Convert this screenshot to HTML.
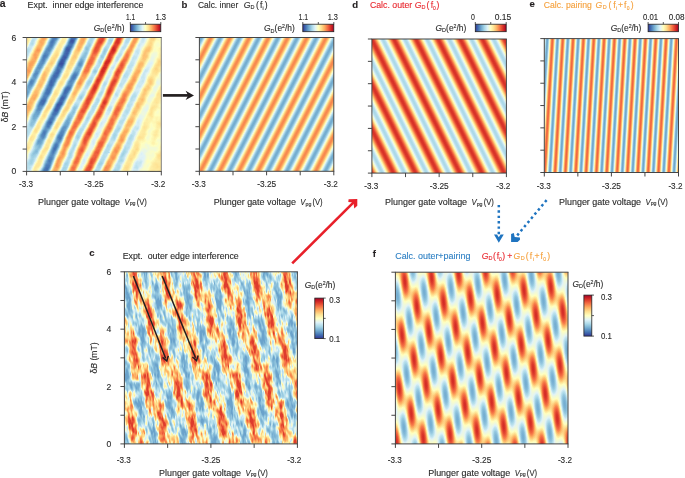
<!DOCTYPE html>
<html><head><meta charset="utf-8"><style>html,body{margin:0;padding:0;background:#fff;overflow:hidden}svg{display:block;will-change:transform}text{font-family:"Liberation Sans",sans-serif;stroke-width:0.12px}</style></head>
<body><svg width="685" height="478" viewBox="0 0 685 478"><defs><linearGradient id="cbh" x1="0" y1="0" x2="1" y2="0"><stop offset="0.00" stop-color="#313695"/><stop offset="0.10" stop-color="#4575b4"/><stop offset="0.20" stop-color="#74add1"/><stop offset="0.30" stop-color="#abd9e9"/><stop offset="0.40" stop-color="#e0f3f8"/><stop offset="0.50" stop-color="#ffffbf"/><stop offset="0.60" stop-color="#fee090"/><stop offset="0.70" stop-color="#fdae61"/><stop offset="0.80" stop-color="#f46d43"/><stop offset="0.90" stop-color="#d73027"/><stop offset="1.00" stop-color="#a50026"/></linearGradient><linearGradient id="cbv" x1="0" y1="1" x2="0" y2="0"><stop offset="0.00" stop-color="#313695"/><stop offset="0.10" stop-color="#4575b4"/><stop offset="0.20" stop-color="#74add1"/><stop offset="0.30" stop-color="#abd9e9"/><stop offset="0.40" stop-color="#e0f3f8"/><stop offset="0.50" stop-color="#ffffbf"/><stop offset="0.60" stop-color="#fee090"/><stop offset="0.70" stop-color="#fdae61"/><stop offset="0.80" stop-color="#f46d43"/><stop offset="0.90" stop-color="#d73027"/><stop offset="1.00" stop-color="#a50026"/></linearGradient><linearGradient id="gb" gradientUnits="userSpaceOnUse" spreadMethod="repeat" x1="208.700" y1="42.000" x2="223.942" y2="49.767"><stop offset="0.0000" stop-color="#c2c2c2"/><stop offset="0.0417" stop-color="#bfbfbf"/><stop offset="0.0833" stop-color="#b8b8b8"/><stop offset="0.1250" stop-color="#adadad"/><stop offset="0.1667" stop-color="#9e9e9e"/><stop offset="0.2083" stop-color="#8d8d8d"/><stop offset="0.2500" stop-color="#7a7a7a"/><stop offset="0.2917" stop-color="#686868"/><stop offset="0.3333" stop-color="#575757"/><stop offset="0.3750" stop-color="#484848"/><stop offset="0.4167" stop-color="#3d3d3d"/><stop offset="0.4583" stop-color="#353535"/><stop offset="0.5000" stop-color="#333333"/><stop offset="0.5417" stop-color="#353535"/><stop offset="0.5833" stop-color="#3d3d3d"/><stop offset="0.6250" stop-color="#484848"/><stop offset="0.6667" stop-color="#575757"/><stop offset="0.7083" stop-color="#686868"/><stop offset="0.7500" stop-color="#7a7a7a"/><stop offset="0.7917" stop-color="#8d8d8d"/><stop offset="0.8333" stop-color="#9e9e9e"/><stop offset="0.8750" stop-color="#adadad"/><stop offset="0.9167" stop-color="#b8b8b8"/><stop offset="0.9583" stop-color="#bfbfbf"/><stop offset="1.0000" stop-color="#c2c2c2"/></linearGradient><filter id="cmb" color-interpolation-filters="sRGB" filterUnits="objectBoundingBox" x="0" y="0" width="1" height="1"><feComponentTransfer in="SourceGraphic"><feFuncR type="table" tableValues="0.1922 0.2706 0.4549 0.6706 0.8784 1.0000 0.9961 0.9922 0.9569 0.8431 0.6471"/><feFuncG type="table" tableValues="0.2118 0.4588 0.6784 0.8510 0.9529 1.0000 0.8784 0.6824 0.4275 0.1882 0.0000"/><feFuncB type="table" tableValues="0.5843 0.7059 0.8196 0.9137 0.9725 0.7490 0.5647 0.3804 0.2627 0.1529 0.1490"/><feFuncA type="identity"/></feComponentTransfer></filter><clipPath id="cb"><rect x="199.40" y="37.50" width="134.40" height="133.80"/></clipPath><linearGradient id="gd" gradientUnits="userSpaceOnUse" spreadMethod="repeat" x1="373.600" y1="43.000" x2="391.423" y2="34.218"><stop offset="0.0000" stop-color="#e5e5e5"/><stop offset="0.0417" stop-color="#e3e3e3"/><stop offset="0.0833" stop-color="#dbdbdb"/><stop offset="0.1250" stop-color="#cfcfcf"/><stop offset="0.1667" stop-color="#bfbfbf"/><stop offset="0.2083" stop-color="#adadad"/><stop offset="0.2500" stop-color="#999999"/><stop offset="0.2917" stop-color="#858585"/><stop offset="0.3333" stop-color="#737373"/><stop offset="0.3750" stop-color="#636363"/><stop offset="0.4167" stop-color="#575757"/><stop offset="0.4583" stop-color="#4f4f4f"/><stop offset="0.5000" stop-color="#4c4c4c"/><stop offset="0.5417" stop-color="#4f4f4f"/><stop offset="0.5833" stop-color="#575757"/><stop offset="0.6250" stop-color="#636363"/><stop offset="0.6667" stop-color="#737373"/><stop offset="0.7083" stop-color="#858585"/><stop offset="0.7500" stop-color="#999999"/><stop offset="0.7917" stop-color="#adadad"/><stop offset="0.8333" stop-color="#bfbfbf"/><stop offset="0.8750" stop-color="#cfcfcf"/><stop offset="0.9167" stop-color="#dbdbdb"/><stop offset="0.9583" stop-color="#e3e3e3"/><stop offset="1.0000" stop-color="#e5e5e5"/></linearGradient><filter id="cmd" color-interpolation-filters="sRGB" filterUnits="objectBoundingBox" x="0" y="0" width="1" height="1"><feComponentTransfer in="SourceGraphic"><feFuncR type="table" tableValues="0.1922 0.2706 0.4549 0.6706 0.8784 1.0000 0.9961 0.9922 0.9569 0.8431 0.6471"/><feFuncG type="table" tableValues="0.2118 0.4588 0.6784 0.8510 0.9529 1.0000 0.8784 0.6824 0.4275 0.1882 0.0000"/><feFuncB type="table" tableValues="0.5843 0.7059 0.8196 0.9137 0.9725 0.7490 0.5647 0.3804 0.2627 0.1529 0.1490"/><feFuncA type="identity"/></feComponentTransfer></filter><clipPath id="cd"><rect x="371.90" y="39.00" width="134.50" height="134.10"/></clipPath><linearGradient id="ge" gradientUnits="userSpaceOnUse" spreadMethod="repeat" x1="552.400" y1="40.000" x2="562.705" y2="40.598"><stop offset="0.0000" stop-color="#cfcfcf"/><stop offset="0.0417" stop-color="#cccccc"/><stop offset="0.0833" stop-color="#c4c4c4"/><stop offset="0.1250" stop-color="#b7b7b7"/><stop offset="0.1667" stop-color="#a7a7a7"/><stop offset="0.2083" stop-color="#949494"/><stop offset="0.2500" stop-color="#808080"/><stop offset="0.2917" stop-color="#6b6b6b"/><stop offset="0.3333" stop-color="#585858"/><stop offset="0.3750" stop-color="#484848"/><stop offset="0.4167" stop-color="#3b3b3b"/><stop offset="0.4583" stop-color="#333333"/><stop offset="0.5000" stop-color="#303030"/><stop offset="0.5417" stop-color="#333333"/><stop offset="0.5833" stop-color="#3b3b3b"/><stop offset="0.6250" stop-color="#484848"/><stop offset="0.6667" stop-color="#585858"/><stop offset="0.7083" stop-color="#6b6b6b"/><stop offset="0.7500" stop-color="#7f7f7f"/><stop offset="0.7917" stop-color="#949494"/><stop offset="0.8333" stop-color="#a7a7a7"/><stop offset="0.8750" stop-color="#b7b7b7"/><stop offset="0.9167" stop-color="#c4c4c4"/><stop offset="0.9583" stop-color="#cccccc"/><stop offset="1.0000" stop-color="#cfcfcf"/></linearGradient><filter id="cme" color-interpolation-filters="sRGB" filterUnits="objectBoundingBox" x="0" y="0" width="1" height="1"><feComponentTransfer in="SourceGraphic"><feFuncR type="table" tableValues="0.1922 0.2706 0.4549 0.6706 0.8784 1.0000 0.9961 0.9922 0.9569 0.8431 0.6471"/><feFuncG type="table" tableValues="0.2118 0.4588 0.6784 0.8510 0.9529 1.0000 0.8784 0.6824 0.4275 0.1882 0.0000"/><feFuncB type="table" tableValues="0.5843 0.7059 0.8196 0.9137 0.9725 0.7490 0.5647 0.3804 0.2627 0.1529 0.1490"/><feFuncA type="identity"/></feComponentTransfer></filter><clipPath id="ce"><rect x="544.30" y="38.60" width="134.20" height="133.90"/></clipPath><linearGradient id="gf1" gradientUnits="userSpaceOnUse" spreadMethod="repeat" x1="400.300" y1="272.200" x2="423.549" y2="260.943"><stop offset="0.0000" stop-color="#f0f0f0"/><stop offset="0.0417" stop-color="#ececec"/><stop offset="0.0833" stop-color="#e1e1e1"/><stop offset="0.1250" stop-color="#cfcfcf"/><stop offset="0.1667" stop-color="#b8b8b8"/><stop offset="0.2083" stop-color="#9d9d9d"/><stop offset="0.2500" stop-color="#808080"/><stop offset="0.2917" stop-color="#626262"/><stop offset="0.3333" stop-color="#474747"/><stop offset="0.3750" stop-color="#303030"/><stop offset="0.4167" stop-color="#1e1e1e"/><stop offset="0.4583" stop-color="#131313"/><stop offset="0.5000" stop-color="#0f0f0f"/><stop offset="0.5417" stop-color="#131313"/><stop offset="0.5833" stop-color="#1e1e1e"/><stop offset="0.6250" stop-color="#303030"/><stop offset="0.6667" stop-color="#474747"/><stop offset="0.7083" stop-color="#626262"/><stop offset="0.7500" stop-color="#7f7f7f"/><stop offset="0.7917" stop-color="#9d9d9d"/><stop offset="0.8333" stop-color="#b8b8b8"/><stop offset="0.8750" stop-color="#cfcfcf"/><stop offset="0.9167" stop-color="#e1e1e1"/><stop offset="0.9583" stop-color="#ececec"/><stop offset="1.0000" stop-color="#f0f0f0"/></linearGradient><linearGradient id="gf2" gradientUnits="userSpaceOnUse" spreadMethod="repeat" x1="405.300" y1="272.200" x2="418.564" y2="272.890"><stop offset="0.0000" stop-color="#c2c2c2"/><stop offset="0.0417" stop-color="#c0c0c0"/><stop offset="0.0833" stop-color="#b9b9b9"/><stop offset="0.1250" stop-color="#aeaeae"/><stop offset="0.1667" stop-color="#a1a1a1"/><stop offset="0.2083" stop-color="#919191"/><stop offset="0.2500" stop-color="#808080"/><stop offset="0.2917" stop-color="#6e6e6e"/><stop offset="0.3333" stop-color="#5e5e5e"/><stop offset="0.3750" stop-color="#515151"/><stop offset="0.4167" stop-color="#464646"/><stop offset="0.4583" stop-color="#3f3f3f"/><stop offset="0.5000" stop-color="#3d3d3d"/><stop offset="0.5417" stop-color="#3f3f3f"/><stop offset="0.5833" stop-color="#464646"/><stop offset="0.6250" stop-color="#515151"/><stop offset="0.6667" stop-color="#5e5e5e"/><stop offset="0.7083" stop-color="#6e6e6e"/><stop offset="0.7500" stop-color="#7f7f7f"/><stop offset="0.7917" stop-color="#919191"/><stop offset="0.8333" stop-color="#a1a1a1"/><stop offset="0.8750" stop-color="#aeaeae"/><stop offset="0.9167" stop-color="#b9b9b9"/><stop offset="0.9583" stop-color="#c0c0c0"/><stop offset="1.0000" stop-color="#c2c2c2"/></linearGradient><filter id="cmf" color-interpolation-filters="sRGB" filterUnits="objectBoundingBox" x="0" y="0" width="1" height="1"><feComponentTransfer in="SourceGraphic"><feFuncR type="table" tableValues="0.4549 0.4549 0.4549 0.4549 0.4549 0.4549 0.4549 0.4549 0.4549 0.4549 0.4627 0.4863 0.5098 0.5333 0.5569 0.5804 0.6078 0.6392 0.6706 0.7020 0.7294 0.7608 0.8000 0.8353 0.8706 0.8980 0.9137 0.9294 0.9412 0.9569 0.9725 0.9843 1.0000 1.0000 1.0000 0.9961 0.9961 0.9961 0.9961 0.9922 0.9922 0.9922 0.9882 0.9804 0.9725 0.9686 0.9608 0.9529 0.9373 0.9216 0.9059 0.8863 0.8706 0.8549 0.8353 0.8235 0.8235 0.8235 0.8235 0.8235 0.8235 0.8235 0.8235 0.8235 0.8235"/><feFuncG type="table" tableValues="0.6784 0.6784 0.6784 0.6784 0.6784 0.6784 0.6784 0.6784 0.6784 0.6784 0.6863 0.7059 0.7216 0.7412 0.7608 0.7765 0.8000 0.8275 0.8510 0.8667 0.8784 0.8941 0.9137 0.9333 0.9490 0.9608 0.9647 0.9725 0.9765 0.9843 0.9882 0.9961 1.0000 0.9725 0.9451 0.9137 0.8863 0.8471 0.8039 0.7686 0.7294 0.6902 0.6471 0.5961 0.5490 0.4980 0.4588 0.4196 0.3882 0.3529 0.3176 0.2824 0.2471 0.2118 0.1804 0.1686 0.1686 0.1686 0.1686 0.1686 0.1686 0.1686 0.1686 0.1686 0.1686"/><feFuncB type="table" tableValues="0.8196 0.8196 0.8196 0.8196 0.8196 0.8196 0.8196 0.8196 0.8196 0.8196 0.8235 0.8353 0.8431 0.8549 0.8627 0.8745 0.8863 0.9020 0.9137 0.9216 0.9294 0.9412 0.9490 0.9608 0.9725 0.9373 0.9098 0.8824 0.8549 0.8275 0.8039 0.7765 0.7490 0.7059 0.6627 0.6196 0.5765 0.5333 0.4941 0.4588 0.4235 0.3882 0.3647 0.3412 0.3176 0.2980 0.2784 0.2588 0.2431 0.2275 0.2118 0.1961 0.1804 0.1647 0.1529 0.1529 0.1529 0.1529 0.1529 0.1529 0.1529 0.1529 0.1529 0.1529 0.1529"/><feFuncA type="identity"/></feComponentTransfer></filter><clipPath id="cf"><rect x="395.40" y="272.20" width="172.60" height="171.70"/></clipPath><linearGradient id="gc1" gradientUnits="userSpaceOnUse" spreadMethod="repeat" x1="100.640" y1="278.000" x2="128.644" y2="270.159"><stop offset="0.0000" stop-color="#f0f0f0"/><stop offset="0.0417" stop-color="#ececec"/><stop offset="0.0833" stop-color="#e1e1e1"/><stop offset="0.1250" stop-color="#cfcfcf"/><stop offset="0.1667" stop-color="#b8b8b8"/><stop offset="0.2083" stop-color="#9d9d9d"/><stop offset="0.2500" stop-color="#808080"/><stop offset="0.2917" stop-color="#626262"/><stop offset="0.3333" stop-color="#474747"/><stop offset="0.3750" stop-color="#303030"/><stop offset="0.4167" stop-color="#1e1e1e"/><stop offset="0.4583" stop-color="#131313"/><stop offset="0.5000" stop-color="#0f0f0f"/><stop offset="0.5417" stop-color="#131313"/><stop offset="0.5833" stop-color="#1e1e1e"/><stop offset="0.6250" stop-color="#303030"/><stop offset="0.6667" stop-color="#474747"/><stop offset="0.7083" stop-color="#626262"/><stop offset="0.7500" stop-color="#7f7f7f"/><stop offset="0.7917" stop-color="#9d9d9d"/><stop offset="0.8333" stop-color="#b8b8b8"/><stop offset="0.8750" stop-color="#cfcfcf"/><stop offset="0.9167" stop-color="#e1e1e1"/><stop offset="0.9583" stop-color="#ececec"/><stop offset="1.0000" stop-color="#f0f0f0"/></linearGradient><linearGradient id="gc2" gradientUnits="userSpaceOnUse" spreadMethod="repeat" x1="102.640" y1="278.000" x2="117.408" y2="280.215"><stop offset="0.0000" stop-color="#b8b8b8"/><stop offset="0.0417" stop-color="#b6b6b6"/><stop offset="0.0833" stop-color="#b0b0b0"/><stop offset="0.1250" stop-color="#a7a7a7"/><stop offset="0.1667" stop-color="#9c9c9c"/><stop offset="0.2083" stop-color="#8e8e8e"/><stop offset="0.2500" stop-color="#808080"/><stop offset="0.2917" stop-color="#717171"/><stop offset="0.3333" stop-color="#636363"/><stop offset="0.3750" stop-color="#585858"/><stop offset="0.4167" stop-color="#4f4f4f"/><stop offset="0.4583" stop-color="#494949"/><stop offset="0.5000" stop-color="#474747"/><stop offset="0.5417" stop-color="#494949"/><stop offset="0.5833" stop-color="#4f4f4f"/><stop offset="0.6250" stop-color="#585858"/><stop offset="0.6667" stop-color="#636363"/><stop offset="0.7083" stop-color="#717171"/><stop offset="0.7500" stop-color="#7f7f7f"/><stop offset="0.7917" stop-color="#8e8e8e"/><stop offset="0.8333" stop-color="#9c9c9c"/><stop offset="0.8750" stop-color="#a7a7a7"/><stop offset="0.9167" stop-color="#b0b0b0"/><stop offset="0.9583" stop-color="#b6b6b6"/><stop offset="1.0000" stop-color="#b8b8b8"/></linearGradient><filter id="cmc" color-interpolation-filters="sRGB" filterUnits="objectBoundingBox" x="0" y="0" width="1" height="1"><feTurbulence type="fractalNoise" baseFrequency="0.45 0.11" numOctaves="2" seed="11" result="n"/><feColorMatrix in="n" type="matrix" values="1 0 0 0 0  1 0 0 0 0  1 0 0 0 0  0 0 0 0 1" result="ng"/><feComposite in="SourceGraphic" in2="ng" operator="arithmetic" k1="0" k2="1" k3="0.75" k4="-0.375" result="sum"/><feComponentTransfer in="sum"><feFuncR type="table" tableValues="0.4196 0.4196 0.4196 0.4196 0.4196 0.4196 0.4196 0.4196 0.4196 0.4196 0.4314 0.4471 0.4627 0.4784 0.4941 0.5098 0.5255 0.5451 0.5608 0.5843 0.6078 0.6314 0.6588 0.6824 0.7059 0.7294 0.7686 0.8078 0.8471 0.8824 0.9059 0.9294 0.9529 0.9804 1.0000 1.0000 0.9961 0.9961 0.9961 0.9961 0.9961 0.9922 0.9922 0.9922 0.9882 0.9804 0.9725 0.9686 0.9647 0.9569 0.9451 0.9294 0.9137 0.8980 0.8824 0.8667 0.8667 0.8667 0.8667 0.8667 0.8667 0.8667 0.8667 0.8667 0.8667"/><feFuncG type="table" tableValues="0.6353 0.6353 0.6353 0.6353 0.6353 0.6353 0.6353 0.6353 0.6353 0.6353 0.6510 0.6667 0.6824 0.6980 0.7098 0.7216 0.7373 0.7490 0.7608 0.7804 0.8000 0.8196 0.8392 0.8588 0.8706 0.8824 0.8980 0.9176 0.9373 0.9529 0.9647 0.9725 0.9804 0.9922 0.9882 0.9608 0.9294 0.9020 0.8706 0.8314 0.7961 0.7608 0.7255 0.6863 0.6431 0.5922 0.5490 0.5137 0.4784 0.4392 0.4078 0.3725 0.3373 0.3059 0.2706 0.2392 0.2353 0.2353 0.2353 0.2353 0.2353 0.2353 0.2353 0.2353 0.2353"/><feFuncB type="table" tableValues="0.7961 0.7961 0.7961 0.7961 0.7961 0.7961 0.7961 0.7961 0.7961 0.7961 0.8039 0.8157 0.8235 0.8314 0.8353 0.8431 0.8510 0.8588 0.8667 0.8745 0.8863 0.8980 0.9098 0.9176 0.9255 0.9294 0.9412 0.9529 0.9647 0.9647 0.9216 0.8824 0.8392 0.7843 0.7333 0.6902 0.6431 0.6000 0.5569 0.5216 0.4863 0.4549 0.4196 0.3843 0.3608 0.3412 0.3176 0.3020 0.2863 0.2706 0.2549 0.2392 0.2235 0.2078 0.1922 0.1765 0.1765 0.1765 0.1765 0.1765 0.1765 0.1765 0.1765 0.1765 0.1765"/><feFuncA type="identity"/></feComponentTransfer></filter><clipPath id="cc"><rect x="124.40" y="271.80" width="173.00" height="172.10"/></clipPath><linearGradient id="ga40" gradientUnits="userSpaceOnUse" x1="20.000" y1="40.000" x2="189.341" y2="122.977"><stop offset="0.0000" stop-color="#9e9e9e"/><stop offset="0.0048" stop-color="#9e9e9e"/><stop offset="0.0095" stop-color="#9e9e9e"/><stop offset="0.0143" stop-color="#9e9e9e"/><stop offset="0.0190" stop-color="#9e9e9e"/><stop offset="0.0238" stop-color="#9e9e9e"/><stop offset="0.0286" stop-color="#9e9e9e"/><stop offset="0.0333" stop-color="#999999"/><stop offset="0.0381" stop-color="#8d8d8d"/><stop offset="0.0429" stop-color="#8c8c8c"/><stop offset="0.0476" stop-color="#818181"/><stop offset="0.0524" stop-color="#6a6a6a"/><stop offset="0.0571" stop-color="#575757"/><stop offset="0.0619" stop-color="#545454"/><stop offset="0.0667" stop-color="#545454"/><stop offset="0.0714" stop-color="#585858"/><stop offset="0.0762" stop-color="#626262"/><stop offset="0.0810" stop-color="#717171"/><stop offset="0.0857" stop-color="#838383"/><stop offset="0.0905" stop-color="#959595"/><stop offset="0.0952" stop-color="#a5a5a5"/><stop offset="0.1000" stop-color="#afafaf"/><stop offset="0.1048" stop-color="#b2b2b2"/><stop offset="0.1095" stop-color="#b2b2b2"/><stop offset="0.1143" stop-color="#b2b2b2"/><stop offset="0.1190" stop-color="#aeaeae"/><stop offset="0.1238" stop-color="#a1a1a1"/><stop offset="0.1286" stop-color="#8c8c8c"/><stop offset="0.1333" stop-color="#737373"/><stop offset="0.1381" stop-color="#585858"/><stop offset="0.1429" stop-color="#3f3f3f"/><stop offset="0.1476" stop-color="#2b2b2b"/><stop offset="0.1524" stop-color="#202020"/><stop offset="0.1571" stop-color="#1d1d1d"/><stop offset="0.1619" stop-color="#1d1d1d"/><stop offset="0.1667" stop-color="#1e1e1e"/><stop offset="0.1714" stop-color="#242424"/><stop offset="0.1762" stop-color="#323232"/><stop offset="0.1810" stop-color="#454545"/><stop offset="0.1857" stop-color="#5c5c5c"/><stop offset="0.1905" stop-color="#717171"/><stop offset="0.1952" stop-color="#828282"/><stop offset="0.2000" stop-color="#8d8d8d"/><stop offset="0.2048" stop-color="#8f8f8f"/><stop offset="0.2095" stop-color="#8f8f8f"/><stop offset="0.2143" stop-color="#8e8e8e"/><stop offset="0.2190" stop-color="#838383"/><stop offset="0.2238" stop-color="#6f6f6f"/><stop offset="0.2286" stop-color="#555555"/><stop offset="0.2333" stop-color="#3a3a3a"/><stop offset="0.2381" stop-color="#232323"/><stop offset="0.2429" stop-color="#141414"/><stop offset="0.2476" stop-color="#111111"/><stop offset="0.2524" stop-color="#111111"/><stop offset="0.2571" stop-color="#111111"/><stop offset="0.2619" stop-color="#1c1c1c"/><stop offset="0.2667" stop-color="#313131"/><stop offset="0.2714" stop-color="#4f4f4f"/><stop offset="0.2762" stop-color="#707070"/><stop offset="0.2810" stop-color="#8f8f8f"/><stop offset="0.2857" stop-color="#a7a7a7"/><stop offset="0.2905" stop-color="#b5b5b5"/><stop offset="0.2952" stop-color="#b8b8b8"/><stop offset="0.3000" stop-color="#b8b8b8"/><stop offset="0.3048" stop-color="#b6b6b6"/><stop offset="0.3095" stop-color="#aaaaaa"/><stop offset="0.3143" stop-color="#969696"/><stop offset="0.3190" stop-color="#7d7d7d"/><stop offset="0.3238" stop-color="#666666"/><stop offset="0.3286" stop-color="#545454"/><stop offset="0.3333" stop-color="#4d4d4d"/><stop offset="0.3381" stop-color="#4c4c4c"/><stop offset="0.3429" stop-color="#4c4c4c"/><stop offset="0.3476" stop-color="#525252"/><stop offset="0.3524" stop-color="#616161"/><stop offset="0.3571" stop-color="#787878"/><stop offset="0.3619" stop-color="#939393"/><stop offset="0.3667" stop-color="#adadad"/><stop offset="0.3714" stop-color="#c4c4c4"/><stop offset="0.3762" stop-color="#d3d3d3"/><stop offset="0.3810" stop-color="#d9d9d9"/><stop offset="0.3857" stop-color="#d9d9d9"/><stop offset="0.3905" stop-color="#d9d9d9"/><stop offset="0.3952" stop-color="#d4d4d4"/><stop offset="0.4000" stop-color="#c6c6c6"/><stop offset="0.4048" stop-color="#b1b1b1"/><stop offset="0.4095" stop-color="#989898"/><stop offset="0.4143" stop-color="#7e7e7e"/><stop offset="0.4190" stop-color="#676767"/><stop offset="0.4238" stop-color="#565656"/><stop offset="0.4286" stop-color="#4d4d4d"/><stop offset="0.4333" stop-color="#4c4c4c"/><stop offset="0.4381" stop-color="#4c4c4c"/><stop offset="0.4429" stop-color="#595959"/><stop offset="0.4476" stop-color="#7d7d7d"/><stop offset="0.4524" stop-color="#acacac"/><stop offset="0.4571" stop-color="#d3d3d3"/><stop offset="0.4619" stop-color="#e5e5e5"/><stop offset="0.4667" stop-color="#e6e6e6"/><stop offset="0.4714" stop-color="#e5e5e5"/><stop offset="0.4762" stop-color="#dfdfdf"/><stop offset="0.4810" stop-color="#cecece"/><stop offset="0.4857" stop-color="#b6b6b6"/><stop offset="0.4905" stop-color="#9a9a9a"/><stop offset="0.4952" stop-color="#7e7e7e"/><stop offset="0.5000" stop-color="#666666"/><stop offset="0.5048" stop-color="#555555"/><stop offset="0.5095" stop-color="#4d4d4d"/><stop offset="0.5143" stop-color="#4c4c4c"/><stop offset="0.5190" stop-color="#4d4d4d"/><stop offset="0.5238" stop-color="#575757"/><stop offset="0.5286" stop-color="#727272"/><stop offset="0.5333" stop-color="#929292"/><stop offset="0.5381" stop-color="#adadad"/><stop offset="0.5429" stop-color="#b8b8b8"/><stop offset="0.5476" stop-color="#b8b8b8"/><stop offset="0.5524" stop-color="#b6b6b6"/><stop offset="0.5571" stop-color="#acacac"/><stop offset="0.5619" stop-color="#9b9b9b"/><stop offset="0.5667" stop-color="#868686"/><stop offset="0.5714" stop-color="#727272"/><stop offset="0.5762" stop-color="#656565"/><stop offset="0.5810" stop-color="#616161"/><stop offset="0.5857" stop-color="#616161"/><stop offset="0.5905" stop-color="#616161"/><stop offset="0.5952" stop-color="#656565"/><stop offset="0.6000" stop-color="#6d6d6d"/><stop offset="0.6048" stop-color="#787878"/><stop offset="0.6095" stop-color="#848484"/><stop offset="0.6143" stop-color="#8f8f8f"/><stop offset="0.6190" stop-color="#989898"/><stop offset="0.6238" stop-color="#9d9d9d"/><stop offset="0.6286" stop-color="#9e9e9e"/><stop offset="0.6333" stop-color="#9e9e9e"/><stop offset="0.6381" stop-color="#9b9b9b"/><stop offset="0.6429" stop-color="#929292"/><stop offset="0.6476" stop-color="#878787"/><stop offset="0.6524" stop-color="#808080"/><stop offset="0.6571" stop-color="#808080"/><stop offset="0.6619" stop-color="#808080"/><stop offset="0.6667" stop-color="#808080"/><stop offset="0.6714" stop-color="#818181"/><stop offset="0.6762" stop-color="#838383"/><stop offset="0.6810" stop-color="#868686"/><stop offset="0.6857" stop-color="#8a8a8a"/><stop offset="0.6905" stop-color="#8e8e8e"/><stop offset="0.6952" stop-color="#919191"/><stop offset="0.7000" stop-color="#949494"/><stop offset="0.7048" stop-color="#979797"/><stop offset="0.7095" stop-color="#989898"/><stop offset="0.7143" stop-color="#999999"/><stop offset="0.7190" stop-color="#999999"/><stop offset="0.7238" stop-color="#999999"/><stop offset="0.7286" stop-color="#979797"/><stop offset="0.7333" stop-color="#929292"/><stop offset="0.7381" stop-color="#8a8a8a"/><stop offset="0.7429" stop-color="#808080"/><stop offset="0.7476" stop-color="#797979"/><stop offset="0.7524" stop-color="#747474"/><stop offset="0.7571" stop-color="#737373"/><stop offset="0.7619" stop-color="#737373"/><stop offset="0.7667" stop-color="#757575"/><stop offset="0.7714" stop-color="#7c7c7c"/><stop offset="0.7762" stop-color="#868686"/><stop offset="0.7810" stop-color="#8f8f8f"/><stop offset="0.7857" stop-color="#949494"/><stop offset="0.7905" stop-color="#949494"/><stop offset="0.7952" stop-color="#949494"/><stop offset="0.8000" stop-color="#939393"/><stop offset="0.8048" stop-color="#909090"/><stop offset="0.8095" stop-color="#8c8c8c"/><stop offset="0.8143" stop-color="#878787"/><stop offset="0.8190" stop-color="#838383"/><stop offset="0.8238" stop-color="#818181"/><stop offset="0.8286" stop-color="#808080"/><stop offset="0.8333" stop-color="#808080"/><stop offset="0.8381" stop-color="#808080"/><stop offset="0.8429" stop-color="#828282"/><stop offset="0.8476" stop-color="#868686"/><stop offset="0.8524" stop-color="#8a8a8a"/><stop offset="0.8571" stop-color="#8e8e8e"/><stop offset="0.8619" stop-color="#8f8f8f"/><stop offset="0.8667" stop-color="#8f8f8f"/><stop offset="0.8714" stop-color="#8e8e8e"/><stop offset="0.8762" stop-color="#898989"/><stop offset="0.8810" stop-color="#848484"/><stop offset="0.8857" stop-color="#7e7e7e"/><stop offset="0.8905" stop-color="#7b7b7b"/><stop offset="0.8952" stop-color="#7a7a7a"/><stop offset="0.9000" stop-color="#7a7a7a"/><stop offset="0.9048" stop-color="#7b7b7b"/><stop offset="0.9095" stop-color="#7f7f7f"/><stop offset="0.9143" stop-color="#838383"/><stop offset="0.9190" stop-color="#898989"/><stop offset="0.9238" stop-color="#8e8e8e"/><stop offset="0.9286" stop-color="#929292"/><stop offset="0.9333" stop-color="#949494"/><stop offset="0.9381" stop-color="#949494"/><stop offset="0.9429" stop-color="#949494"/><stop offset="0.9476" stop-color="#949494"/><stop offset="0.9524" stop-color="#949494"/><stop offset="0.9571" stop-color="#949494"/><stop offset="0.9619" stop-color="#949494"/><stop offset="0.9667" stop-color="#949494"/><stop offset="0.9714" stop-color="#949494"/><stop offset="0.9762" stop-color="#949494"/><stop offset="0.9810" stop-color="#949494"/><stop offset="0.9857" stop-color="#949494"/><stop offset="0.9905" stop-color="#949494"/><stop offset="0.9952" stop-color="#949494"/><stop offset="1.0000" stop-color="#949494"/></linearGradient><linearGradient id="ga72" gradientUnits="userSpaceOnUse" x1="20.000" y1="40.000" x2="189.341" y2="122.977"><stop offset="0.0000" stop-color="#9e9e9e"/><stop offset="0.0048" stop-color="#9e9e9e"/><stop offset="0.0095" stop-color="#9e9e9e"/><stop offset="0.0143" stop-color="#9e9e9e"/><stop offset="0.0190" stop-color="#9e9e9e"/><stop offset="0.0238" stop-color="#9e9e9e"/><stop offset="0.0286" stop-color="#9e9e9e"/><stop offset="0.0333" stop-color="#999999"/><stop offset="0.0381" stop-color="#8d8d8d"/><stop offset="0.0429" stop-color="#8c8c8c"/><stop offset="0.0476" stop-color="#818181"/><stop offset="0.0524" stop-color="#6a6a6a"/><stop offset="0.0571" stop-color="#575757"/><stop offset="0.0619" stop-color="#545454"/><stop offset="0.0667" stop-color="#545454"/><stop offset="0.0714" stop-color="#575757"/><stop offset="0.0762" stop-color="#5f5f5f"/><stop offset="0.0810" stop-color="#6d6d6d"/><stop offset="0.0857" stop-color="#7d7d7d"/><stop offset="0.0905" stop-color="#8e8e8e"/><stop offset="0.0952" stop-color="#9e9e9e"/><stop offset="0.1000" stop-color="#aaaaaa"/><stop offset="0.1048" stop-color="#b1b1b1"/><stop offset="0.1095" stop-color="#b2b2b2"/><stop offset="0.1143" stop-color="#b2b2b2"/><stop offset="0.1190" stop-color="#b1b1b1"/><stop offset="0.1238" stop-color="#a6a6a6"/><stop offset="0.1286" stop-color="#8f8f8f"/><stop offset="0.1333" stop-color="#737373"/><stop offset="0.1381" stop-color="#555555"/><stop offset="0.1429" stop-color="#3d3d3d"/><stop offset="0.1476" stop-color="#2d2d2d"/><stop offset="0.1524" stop-color="#2a2a2a"/><stop offset="0.1571" stop-color="#2a2a2a"/><stop offset="0.1619" stop-color="#2b2b2b"/><stop offset="0.1667" stop-color="#353535"/><stop offset="0.1714" stop-color="#474747"/><stop offset="0.1762" stop-color="#5f5f5f"/><stop offset="0.1810" stop-color="#787878"/><stop offset="0.1857" stop-color="#8f8f8f"/><stop offset="0.1905" stop-color="#9f9f9f"/><stop offset="0.1952" stop-color="#a6a6a6"/><stop offset="0.2000" stop-color="#a6a6a6"/><stop offset="0.2048" stop-color="#a6a6a6"/><stop offset="0.2095" stop-color="#a3a3a3"/><stop offset="0.2143" stop-color="#979797"/><stop offset="0.2190" stop-color="#848484"/><stop offset="0.2238" stop-color="#6c6c6c"/><stop offset="0.2286" stop-color="#525252"/><stop offset="0.2333" stop-color="#3a3a3a"/><stop offset="0.2381" stop-color="#262626"/><stop offset="0.2429" stop-color="#1a1a1a"/><stop offset="0.2476" stop-color="#161616"/><stop offset="0.2524" stop-color="#161616"/><stop offset="0.2571" stop-color="#161616"/><stop offset="0.2619" stop-color="#1a1a1a"/><stop offset="0.2667" stop-color="#262626"/><stop offset="0.2714" stop-color="#393939"/><stop offset="0.2762" stop-color="#505050"/><stop offset="0.2810" stop-color="#686868"/><stop offset="0.2857" stop-color="#7c7c7c"/><stop offset="0.2905" stop-color="#8c8c8c"/><stop offset="0.2952" stop-color="#939393"/><stop offset="0.3000" stop-color="#949494"/><stop offset="0.3048" stop-color="#949494"/><stop offset="0.3095" stop-color="#919191"/><stop offset="0.3143" stop-color="#858585"/><stop offset="0.3190" stop-color="#727272"/><stop offset="0.3238" stop-color="#5a5a5a"/><stop offset="0.3286" stop-color="#434343"/><stop offset="0.3333" stop-color="#303030"/><stop offset="0.3381" stop-color="#262626"/><stop offset="0.3429" stop-color="#252525"/><stop offset="0.3476" stop-color="#252525"/><stop offset="0.3524" stop-color="#292929"/><stop offset="0.3571" stop-color="#3b3b3b"/><stop offset="0.3619" stop-color="#585858"/><stop offset="0.3667" stop-color="#7b7b7b"/><stop offset="0.3714" stop-color="#9d9d9d"/><stop offset="0.3762" stop-color="#b8b8b8"/><stop offset="0.3810" stop-color="#c6c6c6"/><stop offset="0.3857" stop-color="#c7c7c7"/><stop offset="0.3905" stop-color="#c7c7c7"/><stop offset="0.3952" stop-color="#c4c4c4"/><stop offset="0.4000" stop-color="#b7b7b7"/><stop offset="0.4048" stop-color="#a3a3a3"/><stop offset="0.4095" stop-color="#8a8a8a"/><stop offset="0.4143" stop-color="#717171"/><stop offset="0.4190" stop-color="#5c5c5c"/><stop offset="0.4238" stop-color="#505050"/><stop offset="0.4286" stop-color="#4c4c4c"/><stop offset="0.4333" stop-color="#4c4c4c"/><stop offset="0.4381" stop-color="#505050"/><stop offset="0.4429" stop-color="#656565"/><stop offset="0.4476" stop-color="#898989"/><stop offset="0.4524" stop-color="#b1b1b1"/><stop offset="0.4571" stop-color="#d2d2d2"/><stop offset="0.4619" stop-color="#e4e4e4"/><stop offset="0.4667" stop-color="#e6e6e6"/><stop offset="0.4714" stop-color="#e5e5e5"/><stop offset="0.4762" stop-color="#dcdcdc"/><stop offset="0.4810" stop-color="#c5c5c5"/><stop offset="0.4857" stop-color="#a6a6a6"/><stop offset="0.4905" stop-color="#878787"/><stop offset="0.4952" stop-color="#6e6e6e"/><stop offset="0.5000" stop-color="#626262"/><stop offset="0.5048" stop-color="#616161"/><stop offset="0.5095" stop-color="#616161"/><stop offset="0.5143" stop-color="#6a6a6a"/><stop offset="0.5190" stop-color="#7f7f7f"/><stop offset="0.5238" stop-color="#9b9b9b"/><stop offset="0.5286" stop-color="#b8b8b8"/><stop offset="0.5333" stop-color="#cecece"/><stop offset="0.5381" stop-color="#d8d8d8"/><stop offset="0.5429" stop-color="#d9d9d9"/><stop offset="0.5476" stop-color="#d9d9d9"/><stop offset="0.5524" stop-color="#d2d2d2"/><stop offset="0.5571" stop-color="#c2c2c2"/><stop offset="0.5619" stop-color="#aaaaaa"/><stop offset="0.5667" stop-color="#8e8e8e"/><stop offset="0.5714" stop-color="#747474"/><stop offset="0.5762" stop-color="#5f5f5f"/><stop offset="0.5810" stop-color="#535353"/><stop offset="0.5857" stop-color="#525252"/><stop offset="0.5905" stop-color="#525252"/><stop offset="0.5952" stop-color="#535353"/><stop offset="0.6000" stop-color="#5a5a5a"/><stop offset="0.6048" stop-color="#686868"/><stop offset="0.6095" stop-color="#797979"/><stop offset="0.6143" stop-color="#8d8d8d"/><stop offset="0.6190" stop-color="#9e9e9e"/><stop offset="0.6238" stop-color="#ababab"/><stop offset="0.6286" stop-color="#b2b2b2"/><stop offset="0.6333" stop-color="#b2b2b2"/><stop offset="0.6381" stop-color="#b2b2b2"/><stop offset="0.6429" stop-color="#afafaf"/><stop offset="0.6476" stop-color="#a3a3a3"/><stop offset="0.6524" stop-color="#919191"/><stop offset="0.6571" stop-color="#7d7d7d"/><stop offset="0.6619" stop-color="#6c6c6c"/><stop offset="0.6667" stop-color="#626262"/><stop offset="0.6714" stop-color="#616161"/><stop offset="0.6762" stop-color="#616161"/><stop offset="0.6810" stop-color="#626262"/><stop offset="0.6857" stop-color="#676767"/><stop offset="0.6905" stop-color="#6f6f6f"/><stop offset="0.6952" stop-color="#7a7a7a"/><stop offset="0.7000" stop-color="#858585"/><stop offset="0.7048" stop-color="#8e8e8e"/><stop offset="0.7095" stop-color="#959595"/><stop offset="0.7143" stop-color="#999999"/><stop offset="0.7190" stop-color="#999999"/><stop offset="0.7238" stop-color="#999999"/><stop offset="0.7286" stop-color="#979797"/><stop offset="0.7333" stop-color="#929292"/><stop offset="0.7381" stop-color="#8a8a8a"/><stop offset="0.7429" stop-color="#808080"/><stop offset="0.7476" stop-color="#797979"/><stop offset="0.7524" stop-color="#747474"/><stop offset="0.7571" stop-color="#737373"/><stop offset="0.7619" stop-color="#737373"/><stop offset="0.7667" stop-color="#757575"/><stop offset="0.7714" stop-color="#7c7c7c"/><stop offset="0.7762" stop-color="#868686"/><stop offset="0.7810" stop-color="#8f8f8f"/><stop offset="0.7857" stop-color="#949494"/><stop offset="0.7905" stop-color="#949494"/><stop offset="0.7952" stop-color="#949494"/><stop offset="0.8000" stop-color="#939393"/><stop offset="0.8048" stop-color="#909090"/><stop offset="0.8095" stop-color="#8c8c8c"/><stop offset="0.8143" stop-color="#878787"/><stop offset="0.8190" stop-color="#838383"/><stop offset="0.8238" stop-color="#818181"/><stop offset="0.8286" stop-color="#808080"/><stop offset="0.8333" stop-color="#808080"/><stop offset="0.8381" stop-color="#808080"/><stop offset="0.8429" stop-color="#828282"/><stop offset="0.8476" stop-color="#868686"/><stop offset="0.8524" stop-color="#8a8a8a"/><stop offset="0.8571" stop-color="#8e8e8e"/><stop offset="0.8619" stop-color="#8f8f8f"/><stop offset="0.8667" stop-color="#8f8f8f"/><stop offset="0.8714" stop-color="#8e8e8e"/><stop offset="0.8762" stop-color="#898989"/><stop offset="0.8810" stop-color="#848484"/><stop offset="0.8857" stop-color="#7e7e7e"/><stop offset="0.8905" stop-color="#7b7b7b"/><stop offset="0.8952" stop-color="#7a7a7a"/><stop offset="0.9000" stop-color="#7a7a7a"/><stop offset="0.9048" stop-color="#7b7b7b"/><stop offset="0.9095" stop-color="#7f7f7f"/><stop offset="0.9143" stop-color="#838383"/><stop offset="0.9190" stop-color="#898989"/><stop offset="0.9238" stop-color="#8e8e8e"/><stop offset="0.9286" stop-color="#929292"/><stop offset="0.9333" stop-color="#949494"/><stop offset="0.9381" stop-color="#949494"/><stop offset="0.9429" stop-color="#949494"/><stop offset="0.9476" stop-color="#949494"/><stop offset="0.9524" stop-color="#949494"/><stop offset="0.9571" stop-color="#949494"/><stop offset="0.9619" stop-color="#949494"/><stop offset="0.9667" stop-color="#949494"/><stop offset="0.9714" stop-color="#949494"/><stop offset="0.9762" stop-color="#949494"/><stop offset="0.9810" stop-color="#949494"/><stop offset="0.9857" stop-color="#949494"/><stop offset="0.9905" stop-color="#949494"/><stop offset="0.9952" stop-color="#949494"/><stop offset="1.0000" stop-color="#949494"/></linearGradient><linearGradient id="ga104" gradientUnits="userSpaceOnUse" x1="20.000" y1="40.000" x2="189.341" y2="122.977"><stop offset="0.0000" stop-color="#9e9e9e"/><stop offset="0.0048" stop-color="#9e9e9e"/><stop offset="0.0095" stop-color="#9e9e9e"/><stop offset="0.0143" stop-color="#9e9e9e"/><stop offset="0.0190" stop-color="#9e9e9e"/><stop offset="0.0238" stop-color="#9e9e9e"/><stop offset="0.0286" stop-color="#9e9e9e"/><stop offset="0.0333" stop-color="#999999"/><stop offset="0.0381" stop-color="#8d8d8d"/><stop offset="0.0429" stop-color="#8c8c8c"/><stop offset="0.0476" stop-color="#818181"/><stop offset="0.0524" stop-color="#6a6a6a"/><stop offset="0.0571" stop-color="#575757"/><stop offset="0.0619" stop-color="#545454"/><stop offset="0.0667" stop-color="#545454"/><stop offset="0.0714" stop-color="#575757"/><stop offset="0.0762" stop-color="#5f5f5f"/><stop offset="0.0810" stop-color="#6d6d6d"/><stop offset="0.0857" stop-color="#7d7d7d"/><stop offset="0.0905" stop-color="#8e8e8e"/><stop offset="0.0952" stop-color="#9e9e9e"/><stop offset="0.1000" stop-color="#aaaaaa"/><stop offset="0.1048" stop-color="#b1b1b1"/><stop offset="0.1095" stop-color="#b2b2b2"/><stop offset="0.1143" stop-color="#b2b2b2"/><stop offset="0.1190" stop-color="#b1b1b1"/><stop offset="0.1238" stop-color="#a6a6a6"/><stop offset="0.1286" stop-color="#8f8f8f"/><stop offset="0.1333" stop-color="#737373"/><stop offset="0.1381" stop-color="#555555"/><stop offset="0.1429" stop-color="#3d3d3d"/><stop offset="0.1476" stop-color="#2d2d2d"/><stop offset="0.1524" stop-color="#2a2a2a"/><stop offset="0.1571" stop-color="#2a2a2a"/><stop offset="0.1619" stop-color="#2c2c2c"/><stop offset="0.1667" stop-color="#393939"/><stop offset="0.1714" stop-color="#515151"/><stop offset="0.1762" stop-color="#6e6e6e"/><stop offset="0.1810" stop-color="#8c8c8c"/><stop offset="0.1857" stop-color="#a3a3a3"/><stop offset="0.1905" stop-color="#b1b1b1"/><stop offset="0.1952" stop-color="#b2b2b2"/><stop offset="0.2000" stop-color="#b2b2b2"/><stop offset="0.2048" stop-color="#b2b2b2"/><stop offset="0.2095" stop-color="#ababab"/><stop offset="0.2143" stop-color="#9c9c9c"/><stop offset="0.2190" stop-color="#888888"/><stop offset="0.2238" stop-color="#717171"/><stop offset="0.2286" stop-color="#585858"/><stop offset="0.2333" stop-color="#414141"/><stop offset="0.2381" stop-color="#2f2f2f"/><stop offset="0.2429" stop-color="#222222"/><stop offset="0.2476" stop-color="#1d1d1d"/><stop offset="0.2524" stop-color="#1d1d1d"/><stop offset="0.2571" stop-color="#1d1d1d"/><stop offset="0.2619" stop-color="#222222"/><stop offset="0.2667" stop-color="#333333"/><stop offset="0.2714" stop-color="#4d4d4d"/><stop offset="0.2762" stop-color="#696969"/><stop offset="0.2810" stop-color="#838383"/><stop offset="0.2857" stop-color="#949494"/><stop offset="0.2905" stop-color="#999999"/><stop offset="0.2952" stop-color="#999999"/><stop offset="0.3000" stop-color="#989898"/><stop offset="0.3048" stop-color="#8f8f8f"/><stop offset="0.3095" stop-color="#7b7b7b"/><stop offset="0.3143" stop-color="#616161"/><stop offset="0.3190" stop-color="#454545"/><stop offset="0.3238" stop-color="#2c2c2c"/><stop offset="0.3286" stop-color="#191919"/><stop offset="0.3333" stop-color="#111111"/><stop offset="0.3381" stop-color="#111111"/><stop offset="0.3429" stop-color="#111111"/><stop offset="0.3476" stop-color="#151515"/><stop offset="0.3524" stop-color="#252525"/><stop offset="0.3571" stop-color="#3d3d3d"/><stop offset="0.3619" stop-color="#5a5a5a"/><stop offset="0.3667" stop-color="#777777"/><stop offset="0.3714" stop-color="#8e8e8e"/><stop offset="0.3762" stop-color="#9b9b9b"/><stop offset="0.3810" stop-color="#9e9e9e"/><stop offset="0.3857" stop-color="#9e9e9e"/><stop offset="0.3905" stop-color="#9c9c9c"/><stop offset="0.3952" stop-color="#909090"/><stop offset="0.4000" stop-color="#7d7d7d"/><stop offset="0.4048" stop-color="#686868"/><stop offset="0.4095" stop-color="#565656"/><stop offset="0.4143" stop-color="#4d4d4d"/><stop offset="0.4190" stop-color="#4c4c4c"/><stop offset="0.4238" stop-color="#4c4c4c"/><stop offset="0.4286" stop-color="#515151"/><stop offset="0.4333" stop-color="#606060"/><stop offset="0.4381" stop-color="#767676"/><stop offset="0.4429" stop-color="#919191"/><stop offset="0.4476" stop-color="#acacac"/><stop offset="0.4524" stop-color="#c4c4c4"/><stop offset="0.4571" stop-color="#d3d3d3"/><stop offset="0.4619" stop-color="#d9d9d9"/><stop offset="0.4667" stop-color="#d9d9d9"/><stop offset="0.4714" stop-color="#d9d9d9"/><stop offset="0.4762" stop-color="#d2d2d2"/><stop offset="0.4810" stop-color="#c0c0c0"/><stop offset="0.4857" stop-color="#a7a7a7"/><stop offset="0.4905" stop-color="#8a8a8a"/><stop offset="0.4952" stop-color="#6e6e6e"/><stop offset="0.5000" stop-color="#595959"/><stop offset="0.5048" stop-color="#4e4e4e"/><stop offset="0.5095" stop-color="#4c4c4c"/><stop offset="0.5143" stop-color="#4c4c4c"/><stop offset="0.5190" stop-color="#525252"/><stop offset="0.5238" stop-color="#676767"/><stop offset="0.5286" stop-color="#868686"/><stop offset="0.5333" stop-color="#a9a9a9"/><stop offset="0.5381" stop-color="#c6c6c6"/><stop offset="0.5429" stop-color="#d7d7d7"/><stop offset="0.5476" stop-color="#d9d9d9"/><stop offset="0.5524" stop-color="#d9d9d9"/><stop offset="0.5571" stop-color="#d3d3d3"/><stop offset="0.5619" stop-color="#c1c1c1"/><stop offset="0.5667" stop-color="#a6a6a6"/><stop offset="0.5714" stop-color="#898989"/><stop offset="0.5762" stop-color="#707070"/><stop offset="0.5810" stop-color="#636363"/><stop offset="0.5857" stop-color="#616161"/><stop offset="0.5905" stop-color="#616161"/><stop offset="0.5952" stop-color="#656565"/><stop offset="0.6000" stop-color="#737373"/><stop offset="0.6048" stop-color="#888888"/><stop offset="0.6095" stop-color="#a0a0a0"/><stop offset="0.6143" stop-color="#b5b5b5"/><stop offset="0.6190" stop-color="#c3c3c3"/><stop offset="0.6238" stop-color="#c7c7c7"/><stop offset="0.6286" stop-color="#c7c7c7"/><stop offset="0.6333" stop-color="#c7c7c7"/><stop offset="0.6381" stop-color="#c0c0c0"/><stop offset="0.6429" stop-color="#b3b3b3"/><stop offset="0.6476" stop-color="#a0a0a0"/><stop offset="0.6524" stop-color="#8a8a8a"/><stop offset="0.6571" stop-color="#757575"/><stop offset="0.6619" stop-color="#626262"/><stop offset="0.6667" stop-color="#565656"/><stop offset="0.6714" stop-color="#525252"/><stop offset="0.6762" stop-color="#525252"/><stop offset="0.6810" stop-color="#525252"/><stop offset="0.6857" stop-color="#585858"/><stop offset="0.6905" stop-color="#666666"/><stop offset="0.6952" stop-color="#7a7a7a"/><stop offset="0.7000" stop-color="#8e8e8e"/><stop offset="0.7048" stop-color="#9d9d9d"/><stop offset="0.7095" stop-color="#a5a5a5"/><stop offset="0.7143" stop-color="#a6a6a6"/><stop offset="0.7190" stop-color="#a6a6a6"/><stop offset="0.7238" stop-color="#a4a4a4"/><stop offset="0.7286" stop-color="#9e9e9e"/><stop offset="0.7333" stop-color="#959595"/><stop offset="0.7381" stop-color="#8a8a8a"/><stop offset="0.7429" stop-color="#808080"/><stop offset="0.7476" stop-color="#787878"/><stop offset="0.7524" stop-color="#737373"/><stop offset="0.7571" stop-color="#737373"/><stop offset="0.7619" stop-color="#737373"/><stop offset="0.7667" stop-color="#757575"/><stop offset="0.7714" stop-color="#7c7c7c"/><stop offset="0.7762" stop-color="#868686"/><stop offset="0.7810" stop-color="#8f8f8f"/><stop offset="0.7857" stop-color="#949494"/><stop offset="0.7905" stop-color="#949494"/><stop offset="0.7952" stop-color="#949494"/><stop offset="0.8000" stop-color="#939393"/><stop offset="0.8048" stop-color="#909090"/><stop offset="0.8095" stop-color="#8c8c8c"/><stop offset="0.8143" stop-color="#878787"/><stop offset="0.8190" stop-color="#838383"/><stop offset="0.8238" stop-color="#818181"/><stop offset="0.8286" stop-color="#808080"/><stop offset="0.8333" stop-color="#808080"/><stop offset="0.8381" stop-color="#808080"/><stop offset="0.8429" stop-color="#828282"/><stop offset="0.8476" stop-color="#868686"/><stop offset="0.8524" stop-color="#8a8a8a"/><stop offset="0.8571" stop-color="#8e8e8e"/><stop offset="0.8619" stop-color="#8f8f8f"/><stop offset="0.8667" stop-color="#8f8f8f"/><stop offset="0.8714" stop-color="#8e8e8e"/><stop offset="0.8762" stop-color="#898989"/><stop offset="0.8810" stop-color="#848484"/><stop offset="0.8857" stop-color="#7e7e7e"/><stop offset="0.8905" stop-color="#7b7b7b"/><stop offset="0.8952" stop-color="#7a7a7a"/><stop offset="0.9000" stop-color="#7a7a7a"/><stop offset="0.9048" stop-color="#7b7b7b"/><stop offset="0.9095" stop-color="#7f7f7f"/><stop offset="0.9143" stop-color="#838383"/><stop offset="0.9190" stop-color="#898989"/><stop offset="0.9238" stop-color="#8e8e8e"/><stop offset="0.9286" stop-color="#929292"/><stop offset="0.9333" stop-color="#949494"/><stop offset="0.9381" stop-color="#949494"/><stop offset="0.9429" stop-color="#949494"/><stop offset="0.9476" stop-color="#949494"/><stop offset="0.9524" stop-color="#949494"/><stop offset="0.9571" stop-color="#949494"/><stop offset="0.9619" stop-color="#949494"/><stop offset="0.9667" stop-color="#949494"/><stop offset="0.9714" stop-color="#949494"/><stop offset="0.9762" stop-color="#949494"/><stop offset="0.9810" stop-color="#949494"/><stop offset="0.9857" stop-color="#949494"/><stop offset="0.9905" stop-color="#949494"/><stop offset="0.9952" stop-color="#949494"/><stop offset="1.0000" stop-color="#949494"/></linearGradient><linearGradient id="ga135" gradientUnits="userSpaceOnUse" x1="20.000" y1="40.000" x2="189.341" y2="122.977"><stop offset="0.0000" stop-color="#9e9e9e"/><stop offset="0.0048" stop-color="#9e9e9e"/><stop offset="0.0095" stop-color="#9e9e9e"/><stop offset="0.0143" stop-color="#9e9e9e"/><stop offset="0.0190" stop-color="#9e9e9e"/><stop offset="0.0238" stop-color="#9e9e9e"/><stop offset="0.0286" stop-color="#9e9e9e"/><stop offset="0.0333" stop-color="#999999"/><stop offset="0.0381" stop-color="#8d8d8d"/><stop offset="0.0429" stop-color="#8c8c8c"/><stop offset="0.0476" stop-color="#818181"/><stop offset="0.0524" stop-color="#6a6a6a"/><stop offset="0.0571" stop-color="#575757"/><stop offset="0.0619" stop-color="#545454"/><stop offset="0.0667" stop-color="#545454"/><stop offset="0.0714" stop-color="#575757"/><stop offset="0.0762" stop-color="#5f5f5f"/><stop offset="0.0810" stop-color="#6d6d6d"/><stop offset="0.0857" stop-color="#7d7d7d"/><stop offset="0.0905" stop-color="#8e8e8e"/><stop offset="0.0952" stop-color="#9e9e9e"/><stop offset="0.1000" stop-color="#aaaaaa"/><stop offset="0.1048" stop-color="#b1b1b1"/><stop offset="0.1095" stop-color="#b2b2b2"/><stop offset="0.1143" stop-color="#b2b2b2"/><stop offset="0.1190" stop-color="#b1b1b1"/><stop offset="0.1238" stop-color="#a6a6a6"/><stop offset="0.1286" stop-color="#8f8f8f"/><stop offset="0.1333" stop-color="#737373"/><stop offset="0.1381" stop-color="#555555"/><stop offset="0.1429" stop-color="#3d3d3d"/><stop offset="0.1476" stop-color="#2d2d2d"/><stop offset="0.1524" stop-color="#2a2a2a"/><stop offset="0.1571" stop-color="#2a2a2a"/><stop offset="0.1619" stop-color="#2c2c2c"/><stop offset="0.1667" stop-color="#393939"/><stop offset="0.1714" stop-color="#515151"/><stop offset="0.1762" stop-color="#6e6e6e"/><stop offset="0.1810" stop-color="#8c8c8c"/><stop offset="0.1857" stop-color="#a3a3a3"/><stop offset="0.1905" stop-color="#b1b1b1"/><stop offset="0.1952" stop-color="#b2b2b2"/><stop offset="0.2000" stop-color="#b2b2b2"/><stop offset="0.2048" stop-color="#b2b2b2"/><stop offset="0.2095" stop-color="#aeaeae"/><stop offset="0.2143" stop-color="#a7a7a7"/><stop offset="0.2190" stop-color="#9b9b9b"/><stop offset="0.2238" stop-color="#8e8e8e"/><stop offset="0.2286" stop-color="#7f7f7f"/><stop offset="0.2333" stop-color="#717171"/><stop offset="0.2381" stop-color="#646464"/><stop offset="0.2429" stop-color="#5b5b5b"/><stop offset="0.2476" stop-color="#555555"/><stop offset="0.2524" stop-color="#545454"/><stop offset="0.2571" stop-color="#545454"/><stop offset="0.2619" stop-color="#555555"/><stop offset="0.2667" stop-color="#616161"/><stop offset="0.2714" stop-color="#747474"/><stop offset="0.2762" stop-color="#878787"/><stop offset="0.2810" stop-color="#939393"/><stop offset="0.2857" stop-color="#949494"/><stop offset="0.2905" stop-color="#949494"/><stop offset="0.2952" stop-color="#909090"/><stop offset="0.3000" stop-color="#838383"/><stop offset="0.3048" stop-color="#717171"/><stop offset="0.3095" stop-color="#5b5b5b"/><stop offset="0.3143" stop-color="#464646"/><stop offset="0.3190" stop-color="#343434"/><stop offset="0.3238" stop-color="#292929"/><stop offset="0.3286" stop-color="#252525"/><stop offset="0.3333" stop-color="#252525"/><stop offset="0.3381" stop-color="#252525"/><stop offset="0.3429" stop-color="#2d2d2d"/><stop offset="0.3476" stop-color="#3d3d3d"/><stop offset="0.3524" stop-color="#545454"/><stop offset="0.3571" stop-color="#6c6c6c"/><stop offset="0.3619" stop-color="#818181"/><stop offset="0.3667" stop-color="#8f8f8f"/><stop offset="0.3714" stop-color="#949494"/><stop offset="0.3762" stop-color="#949494"/><stop offset="0.3810" stop-color="#939393"/><stop offset="0.3857" stop-color="#898989"/><stop offset="0.3905" stop-color="#747474"/><stop offset="0.3952" stop-color="#5a5a5a"/><stop offset="0.4000" stop-color="#3f3f3f"/><stop offset="0.4048" stop-color="#2a2a2a"/><stop offset="0.4095" stop-color="#1f1f1f"/><stop offset="0.4143" stop-color="#1d1d1d"/><stop offset="0.4190" stop-color="#1d1d1d"/><stop offset="0.4238" stop-color="#212121"/><stop offset="0.4286" stop-color="#303030"/><stop offset="0.4333" stop-color="#4a4a4a"/><stop offset="0.4381" stop-color="#6a6a6a"/><stop offset="0.4429" stop-color="#8b8b8b"/><stop offset="0.4476" stop-color="#a8a8a8"/><stop offset="0.4524" stop-color="#bdbdbd"/><stop offset="0.4571" stop-color="#c7c7c7"/><stop offset="0.4619" stop-color="#c7c7c7"/><stop offset="0.4667" stop-color="#c7c7c7"/><stop offset="0.4714" stop-color="#bfbfbf"/><stop offset="0.4762" stop-color="#ababab"/><stop offset="0.4810" stop-color="#8e8e8e"/><stop offset="0.4857" stop-color="#717171"/><stop offset="0.4905" stop-color="#595959"/><stop offset="0.4952" stop-color="#4d4d4d"/><stop offset="0.5000" stop-color="#4c4c4c"/><stop offset="0.5048" stop-color="#4c4c4c"/><stop offset="0.5095" stop-color="#525252"/><stop offset="0.5143" stop-color="#636363"/><stop offset="0.5190" stop-color="#7c7c7c"/><stop offset="0.5238" stop-color="#989898"/><stop offset="0.5286" stop-color="#b4b4b4"/><stop offset="0.5333" stop-color="#cacaca"/><stop offset="0.5381" stop-color="#d7d7d7"/><stop offset="0.5429" stop-color="#d9d9d9"/><stop offset="0.5476" stop-color="#d9d9d9"/><stop offset="0.5524" stop-color="#d7d7d7"/><stop offset="0.5571" stop-color="#cbcbcb"/><stop offset="0.5619" stop-color="#b6b6b6"/><stop offset="0.5667" stop-color="#9d9d9d"/><stop offset="0.5714" stop-color="#838383"/><stop offset="0.5762" stop-color="#6f6f6f"/><stop offset="0.5810" stop-color="#636363"/><stop offset="0.5857" stop-color="#616161"/><stop offset="0.5905" stop-color="#616161"/><stop offset="0.5952" stop-color="#636363"/><stop offset="0.6000" stop-color="#707070"/><stop offset="0.6048" stop-color="#858585"/><stop offset="0.6095" stop-color="#9e9e9e"/><stop offset="0.6143" stop-color="#b5b5b5"/><stop offset="0.6190" stop-color="#c6c6c6"/><stop offset="0.6238" stop-color="#cccccc"/><stop offset="0.6286" stop-color="#cccccc"/><stop offset="0.6333" stop-color="#cccccc"/><stop offset="0.6381" stop-color="#c5c5c5"/><stop offset="0.6429" stop-color="#b5b5b5"/><stop offset="0.6476" stop-color="#9f9f9f"/><stop offset="0.6524" stop-color="#868686"/><stop offset="0.6571" stop-color="#6e6e6e"/><stop offset="0.6619" stop-color="#5c5c5c"/><stop offset="0.6667" stop-color="#535353"/><stop offset="0.6714" stop-color="#525252"/><stop offset="0.6762" stop-color="#525252"/><stop offset="0.6810" stop-color="#545454"/><stop offset="0.6857" stop-color="#5f5f5f"/><stop offset="0.6905" stop-color="#707070"/><stop offset="0.6952" stop-color="#858585"/><stop offset="0.7000" stop-color="#9a9a9a"/><stop offset="0.7048" stop-color="#a9a9a9"/><stop offset="0.7095" stop-color="#b2b2b2"/><stop offset="0.7143" stop-color="#b2b2b2"/><stop offset="0.7190" stop-color="#b2b2b2"/><stop offset="0.7238" stop-color="#b0b0b0"/><stop offset="0.7286" stop-color="#a4a4a4"/><stop offset="0.7333" stop-color="#939393"/><stop offset="0.7381" stop-color="#7e7e7e"/><stop offset="0.7429" stop-color="#6b6b6b"/><stop offset="0.7476" stop-color="#5c5c5c"/><stop offset="0.7524" stop-color="#555555"/><stop offset="0.7571" stop-color="#545454"/><stop offset="0.7619" stop-color="#545454"/><stop offset="0.7667" stop-color="#565656"/><stop offset="0.7714" stop-color="#5e5e5e"/><stop offset="0.7762" stop-color="#6a6a6a"/><stop offset="0.7810" stop-color="#777777"/><stop offset="0.7857" stop-color="#838383"/><stop offset="0.7905" stop-color="#8d8d8d"/><stop offset="0.7952" stop-color="#919191"/><stop offset="0.8000" stop-color="#919191"/><stop offset="0.8048" stop-color="#919191"/><stop offset="0.8095" stop-color="#909090"/><stop offset="0.8143" stop-color="#8b8b8b"/><stop offset="0.8190" stop-color="#868686"/><stop offset="0.8238" stop-color="#828282"/><stop offset="0.8286" stop-color="#808080"/><stop offset="0.8333" stop-color="#808080"/><stop offset="0.8381" stop-color="#808080"/><stop offset="0.8429" stop-color="#828282"/><stop offset="0.8476" stop-color="#868686"/><stop offset="0.8524" stop-color="#8a8a8a"/><stop offset="0.8571" stop-color="#8e8e8e"/><stop offset="0.8619" stop-color="#8f8f8f"/><stop offset="0.8667" stop-color="#8f8f8f"/><stop offset="0.8714" stop-color="#8e8e8e"/><stop offset="0.8762" stop-color="#898989"/><stop offset="0.8810" stop-color="#848484"/><stop offset="0.8857" stop-color="#7e7e7e"/><stop offset="0.8905" stop-color="#7b7b7b"/><stop offset="0.8952" stop-color="#7a7a7a"/><stop offset="0.9000" stop-color="#7a7a7a"/><stop offset="0.9048" stop-color="#7b7b7b"/><stop offset="0.9095" stop-color="#7f7f7f"/><stop offset="0.9143" stop-color="#838383"/><stop offset="0.9190" stop-color="#898989"/><stop offset="0.9238" stop-color="#8e8e8e"/><stop offset="0.9286" stop-color="#929292"/><stop offset="0.9333" stop-color="#949494"/><stop offset="0.9381" stop-color="#949494"/><stop offset="0.9429" stop-color="#949494"/><stop offset="0.9476" stop-color="#949494"/><stop offset="0.9524" stop-color="#949494"/><stop offset="0.9571" stop-color="#949494"/><stop offset="0.9619" stop-color="#949494"/><stop offset="0.9667" stop-color="#949494"/><stop offset="0.9714" stop-color="#949494"/><stop offset="0.9762" stop-color="#949494"/><stop offset="0.9810" stop-color="#949494"/><stop offset="0.9857" stop-color="#949494"/><stop offset="0.9905" stop-color="#949494"/><stop offset="0.9952" stop-color="#949494"/><stop offset="1.0000" stop-color="#949494"/></linearGradient><linearGradient id="ga167" gradientUnits="userSpaceOnUse" x1="20.000" y1="40.000" x2="189.341" y2="122.977"><stop offset="0.0000" stop-color="#9e9e9e"/><stop offset="0.0048" stop-color="#9e9e9e"/><stop offset="0.0095" stop-color="#9e9e9e"/><stop offset="0.0143" stop-color="#9e9e9e"/><stop offset="0.0190" stop-color="#9e9e9e"/><stop offset="0.0238" stop-color="#9e9e9e"/><stop offset="0.0286" stop-color="#9e9e9e"/><stop offset="0.0333" stop-color="#999999"/><stop offset="0.0381" stop-color="#8d8d8d"/><stop offset="0.0429" stop-color="#8c8c8c"/><stop offset="0.0476" stop-color="#818181"/><stop offset="0.0524" stop-color="#6a6a6a"/><stop offset="0.0571" stop-color="#575757"/><stop offset="0.0619" stop-color="#545454"/><stop offset="0.0667" stop-color="#545454"/><stop offset="0.0714" stop-color="#575757"/><stop offset="0.0762" stop-color="#5f5f5f"/><stop offset="0.0810" stop-color="#6d6d6d"/><stop offset="0.0857" stop-color="#7d7d7d"/><stop offset="0.0905" stop-color="#8e8e8e"/><stop offset="0.0952" stop-color="#9e9e9e"/><stop offset="0.1000" stop-color="#aaaaaa"/><stop offset="0.1048" stop-color="#b1b1b1"/><stop offset="0.1095" stop-color="#b2b2b2"/><stop offset="0.1143" stop-color="#b2b2b2"/><stop offset="0.1190" stop-color="#b1b1b1"/><stop offset="0.1238" stop-color="#a6a6a6"/><stop offset="0.1286" stop-color="#8f8f8f"/><stop offset="0.1333" stop-color="#737373"/><stop offset="0.1381" stop-color="#555555"/><stop offset="0.1429" stop-color="#3d3d3d"/><stop offset="0.1476" stop-color="#2d2d2d"/><stop offset="0.1524" stop-color="#2a2a2a"/><stop offset="0.1571" stop-color="#2a2a2a"/><stop offset="0.1619" stop-color="#2c2c2c"/><stop offset="0.1667" stop-color="#393939"/><stop offset="0.1714" stop-color="#515151"/><stop offset="0.1762" stop-color="#6e6e6e"/><stop offset="0.1810" stop-color="#8c8c8c"/><stop offset="0.1857" stop-color="#a3a3a3"/><stop offset="0.1905" stop-color="#b1b1b1"/><stop offset="0.1952" stop-color="#b2b2b2"/><stop offset="0.2000" stop-color="#b2b2b2"/><stop offset="0.2048" stop-color="#b2b2b2"/><stop offset="0.2095" stop-color="#aeaeae"/><stop offset="0.2143" stop-color="#a7a7a7"/><stop offset="0.2190" stop-color="#9b9b9b"/><stop offset="0.2238" stop-color="#8e8e8e"/><stop offset="0.2286" stop-color="#7f7f7f"/><stop offset="0.2333" stop-color="#717171"/><stop offset="0.2381" stop-color="#646464"/><stop offset="0.2429" stop-color="#5b5b5b"/><stop offset="0.2476" stop-color="#555555"/><stop offset="0.2524" stop-color="#545454"/><stop offset="0.2571" stop-color="#545454"/><stop offset="0.2619" stop-color="#555555"/><stop offset="0.2667" stop-color="#616161"/><stop offset="0.2714" stop-color="#747474"/><stop offset="0.2762" stop-color="#878787"/><stop offset="0.2810" stop-color="#939393"/><stop offset="0.2857" stop-color="#949494"/><stop offset="0.2905" stop-color="#949494"/><stop offset="0.2952" stop-color="#939393"/><stop offset="0.3000" stop-color="#8e8e8e"/><stop offset="0.3048" stop-color="#878787"/><stop offset="0.3095" stop-color="#7d7d7d"/><stop offset="0.3143" stop-color="#727272"/><stop offset="0.3190" stop-color="#686868"/><stop offset="0.3238" stop-color="#5f5f5f"/><stop offset="0.3286" stop-color="#585858"/><stop offset="0.3333" stop-color="#555555"/><stop offset="0.3381" stop-color="#545454"/><stop offset="0.3429" stop-color="#545454"/><stop offset="0.3476" stop-color="#565656"/><stop offset="0.3524" stop-color="#5e5e5e"/><stop offset="0.3571" stop-color="#6d6d6d"/><stop offset="0.3619" stop-color="#7e7e7e"/><stop offset="0.3667" stop-color="#8c8c8c"/><stop offset="0.3714" stop-color="#939393"/><stop offset="0.3762" stop-color="#949494"/><stop offset="0.3810" stop-color="#949494"/><stop offset="0.3857" stop-color="#919191"/><stop offset="0.3905" stop-color="#868686"/><stop offset="0.3952" stop-color="#757575"/><stop offset="0.4000" stop-color="#606060"/><stop offset="0.4048" stop-color="#4a4a4a"/><stop offset="0.4095" stop-color="#363636"/><stop offset="0.4143" stop-color="#272727"/><stop offset="0.4190" stop-color="#1f1f1f"/><stop offset="0.4238" stop-color="#1d1d1d"/><stop offset="0.4286" stop-color="#1d1d1d"/><stop offset="0.4333" stop-color="#1f1f1f"/><stop offset="0.4381" stop-color="#2b2b2b"/><stop offset="0.4429" stop-color="#434343"/><stop offset="0.4476" stop-color="#616161"/><stop offset="0.4524" stop-color="#818181"/><stop offset="0.4571" stop-color="#9d9d9d"/><stop offset="0.4619" stop-color="#b0b0b0"/><stop offset="0.4667" stop-color="#b8b8b8"/><stop offset="0.4714" stop-color="#b8b8b8"/><stop offset="0.4762" stop-color="#b8b8b8"/><stop offset="0.4810" stop-color="#b1b1b1"/><stop offset="0.4857" stop-color="#a2a2a2"/><stop offset="0.4905" stop-color="#8d8d8d"/><stop offset="0.4952" stop-color="#757575"/><stop offset="0.5000" stop-color="#606060"/><stop offset="0.5048" stop-color="#525252"/><stop offset="0.5095" stop-color="#4d4d4d"/><stop offset="0.5143" stop-color="#4c4c4c"/><stop offset="0.5190" stop-color="#4d4d4d"/><stop offset="0.5238" stop-color="#565656"/><stop offset="0.5286" stop-color="#6b6b6b"/><stop offset="0.5333" stop-color="#858585"/><stop offset="0.5381" stop-color="#a1a1a1"/><stop offset="0.5429" stop-color="#b8b8b8"/><stop offset="0.5476" stop-color="#c5c5c5"/><stop offset="0.5524" stop-color="#c7c7c7"/><stop offset="0.5571" stop-color="#c7c7c7"/><stop offset="0.5619" stop-color="#c1c1c1"/><stop offset="0.5667" stop-color="#aeaeae"/><stop offset="0.5714" stop-color="#959595"/><stop offset="0.5762" stop-color="#7d7d7d"/><stop offset="0.5810" stop-color="#6e6e6e"/><stop offset="0.5857" stop-color="#6b6b6b"/><stop offset="0.5905" stop-color="#6b6b6b"/><stop offset="0.5952" stop-color="#6f6f6f"/><stop offset="0.6000" stop-color="#7e7e7e"/><stop offset="0.6048" stop-color="#949494"/><stop offset="0.6095" stop-color="#adadad"/><stop offset="0.6143" stop-color="#c4c4c4"/><stop offset="0.6190" stop-color="#d4d4d4"/><stop offset="0.6238" stop-color="#d9d9d9"/><stop offset="0.6286" stop-color="#d9d9d9"/><stop offset="0.6333" stop-color="#d8d8d8"/><stop offset="0.6381" stop-color="#cfcfcf"/><stop offset="0.6429" stop-color="#bcbcbc"/><stop offset="0.6476" stop-color="#a1a1a1"/><stop offset="0.6524" stop-color="#848484"/><stop offset="0.6571" stop-color="#6a6a6a"/><stop offset="0.6619" stop-color="#565656"/><stop offset="0.6667" stop-color="#4d4d4d"/><stop offset="0.6714" stop-color="#4c4c4c"/><stop offset="0.6762" stop-color="#4c4c4c"/><stop offset="0.6810" stop-color="#525252"/><stop offset="0.6857" stop-color="#636363"/><stop offset="0.6905" stop-color="#7b7b7b"/><stop offset="0.6952" stop-color="#969696"/><stop offset="0.7000" stop-color="#adadad"/><stop offset="0.7048" stop-color="#bcbcbc"/><stop offset="0.7095" stop-color="#bfbfbf"/><stop offset="0.7143" stop-color="#bfbfbf"/><stop offset="0.7190" stop-color="#bfbfbf"/><stop offset="0.7238" stop-color="#b8b8b8"/><stop offset="0.7286" stop-color="#aaaaaa"/><stop offset="0.7333" stop-color="#979797"/><stop offset="0.7381" stop-color="#828282"/><stop offset="0.7429" stop-color="#6d6d6d"/><stop offset="0.7476" stop-color="#5c5c5c"/><stop offset="0.7524" stop-color="#505050"/><stop offset="0.7571" stop-color="#4c4c4c"/><stop offset="0.7619" stop-color="#4c4c4c"/><stop offset="0.7667" stop-color="#4d4d4d"/><stop offset="0.7714" stop-color="#515151"/><stop offset="0.7762" stop-color="#5b5b5b"/><stop offset="0.7810" stop-color="#6a6a6a"/><stop offset="0.7857" stop-color="#7b7b7b"/><stop offset="0.7905" stop-color="#8a8a8a"/><stop offset="0.7952" stop-color="#959595"/><stop offset="0.8000" stop-color="#999999"/><stop offset="0.8048" stop-color="#999999"/><stop offset="0.8095" stop-color="#999999"/><stop offset="0.8143" stop-color="#969696"/><stop offset="0.8190" stop-color="#8f8f8f"/><stop offset="0.8238" stop-color="#858585"/><stop offset="0.8286" stop-color="#787878"/><stop offset="0.8333" stop-color="#6c6c6c"/><stop offset="0.8381" stop-color="#626262"/><stop offset="0.8429" stop-color="#5b5b5b"/><stop offset="0.8476" stop-color="#595959"/><stop offset="0.8524" stop-color="#595959"/><stop offset="0.8571" stop-color="#595959"/><stop offset="0.8619" stop-color="#5b5b5b"/><stop offset="0.8667" stop-color="#606060"/><stop offset="0.8714" stop-color="#666666"/><stop offset="0.8762" stop-color="#6d6d6d"/><stop offset="0.8810" stop-color="#737373"/><stop offset="0.8857" stop-color="#787878"/><stop offset="0.8905" stop-color="#7a7a7a"/><stop offset="0.8952" stop-color="#7a7a7a"/><stop offset="0.9000" stop-color="#7a7a7a"/><stop offset="0.9048" stop-color="#7b7b7b"/><stop offset="0.9095" stop-color="#7f7f7f"/><stop offset="0.9143" stop-color="#838383"/><stop offset="0.9190" stop-color="#898989"/><stop offset="0.9238" stop-color="#8e8e8e"/><stop offset="0.9286" stop-color="#929292"/><stop offset="0.9333" stop-color="#949494"/><stop offset="0.9381" stop-color="#949494"/><stop offset="0.9429" stop-color="#949494"/><stop offset="0.9476" stop-color="#949494"/><stop offset="0.9524" stop-color="#949494"/><stop offset="0.9571" stop-color="#949494"/><stop offset="0.9619" stop-color="#949494"/><stop offset="0.9667" stop-color="#949494"/><stop offset="0.9714" stop-color="#949494"/><stop offset="0.9762" stop-color="#949494"/><stop offset="0.9810" stop-color="#949494"/><stop offset="0.9857" stop-color="#949494"/><stop offset="0.9905" stop-color="#949494"/><stop offset="0.9952" stop-color="#949494"/><stop offset="1.0000" stop-color="#949494"/></linearGradient><linearGradient id="gm72" gradientUnits="userSpaceOnUse" x1="0" y1="40.0" x2="0" y2="72.0"><stop offset="0" stop-color="#000"/><stop offset="1" stop-color="#fff"/></linearGradient><mask id="ma72" maskUnits="userSpaceOnUse" x="24.60" y="35.50" width="138.70" height="137.90"><rect x="24.60" y="35.50" width="138.70" height="137.90" fill="url(#gm72)"/></mask><linearGradient id="gm104" gradientUnits="userSpaceOnUse" x1="0" y1="72.0" x2="0" y2="104.0"><stop offset="0" stop-color="#000"/><stop offset="1" stop-color="#fff"/></linearGradient><mask id="ma104" maskUnits="userSpaceOnUse" x="24.60" y="35.50" width="138.70" height="137.90"><rect x="24.60" y="35.50" width="138.70" height="137.90" fill="url(#gm104)"/></mask><linearGradient id="gm135" gradientUnits="userSpaceOnUse" x1="0" y1="104.0" x2="0" y2="135.0"><stop offset="0" stop-color="#000"/><stop offset="1" stop-color="#fff"/></linearGradient><mask id="ma135" maskUnits="userSpaceOnUse" x="24.60" y="35.50" width="138.70" height="137.90"><rect x="24.60" y="35.50" width="138.70" height="137.90" fill="url(#gm135)"/></mask><linearGradient id="gm167" gradientUnits="userSpaceOnUse" x1="0" y1="135.0" x2="0" y2="167.0"><stop offset="0" stop-color="#000"/><stop offset="1" stop-color="#fff"/></linearGradient><mask id="ma167" maskUnits="userSpaceOnUse" x="24.60" y="35.50" width="138.70" height="137.90"><rect x="24.60" y="35.50" width="138.70" height="137.90" fill="url(#gm167)"/></mask><filter id="cma" color-interpolation-filters="sRGB" filterUnits="objectBoundingBox" x="0" y="0" width="1" height="1"><feTurbulence type="fractalNoise" baseFrequency="0.05 0.18" numOctaves="1" seed="5" result="dt"/><feColorMatrix in="dt" type="matrix" values="1 0 0 0 0  0 0 0 0 0.5  0 0 0 0 0  0 0 0 0 1" result="dtm"/><feDisplacementMap in="SourceGraphic" in2="dtm" scale="1.6" xChannelSelector="R" yChannelSelector="G" result="disp"/><feTurbulence type="fractalNoise" baseFrequency="0.15 0.15" numOctaves="2" seed="3" result="n"/><feColorMatrix in="n" type="matrix" values="1 0 0 0 0  1 0 0 0 0  1 0 0 0 0  0 0 0 0 1" result="ng"/><feComposite in="disp" in2="ng" operator="arithmetic" k1="0" k2="1" k3="0.12" k4="-0.06" result="sum"/><feComponentTransfer in="sum"><feFuncR type="table" tableValues="0.1922 0.2706 0.4549 0.6706 0.8784 1.0000 0.9961 0.9922 0.9569 0.8431 0.6471"/><feFuncG type="table" tableValues="0.2118 0.4588 0.6784 0.8510 0.9529 1.0000 0.8784 0.6824 0.4275 0.1882 0.0000"/><feFuncB type="table" tableValues="0.5843 0.7059 0.8196 0.9137 0.9725 0.7490 0.5647 0.3804 0.2627 0.1529 0.1490"/><feFuncA type="identity"/></feComponentTransfer></filter><clipPath id="ca"><rect x="26.60" y="37.50" width="134.70" height="133.90"/></clipPath></defs><g clip-path="url(#cb)"><g filter="url(#cmb)"><rect x="199.40" y="37.50" width="134.40" height="133.80" fill="url(#gb)"/></g></g>
<g clip-path="url(#cd)"><g filter="url(#cmd)"><rect x="371.90" y="39.00" width="134.50" height="134.10" fill="url(#gd)"/></g></g>
<g clip-path="url(#ce)"><g filter="url(#cme)"><rect x="544.30" y="38.60" width="134.20" height="133.90" fill="url(#ge)"/></g></g>
<g clip-path="url(#cf)"><g filter="url(#cmf)"><rect x="395.40" y="272.20" width="172.60" height="171.70" fill="url(#gf1)"/><rect x="395.40" y="272.20" width="172.60" height="171.70" fill="url(#gf2)" opacity="0.5"/></g></g>
<g clip-path="url(#cc)"><g transform="matrix(1 0 0.1200 1 0 0)"><g filter="url(#cmc)"><rect x="69.13" y="271.80" width="197.65" height="172.10" fill="url(#gc1)"/><rect x="69.13" y="271.80" width="197.65" height="172.10" fill="url(#gc2)" opacity="0.5"/></g></g></g>
<g clip-path="url(#ca)"><g filter="url(#cma)"><rect x="22.60" y="33.50" width="142.70" height="141.90" fill="url(#ga40)"/><rect x="22.60" y="33.50" width="142.70" height="141.90" fill="url(#ga72)" mask="url(#ma72)"/><rect x="22.60" y="33.50" width="142.70" height="141.90" fill="url(#ga104)" mask="url(#ma104)"/><rect x="22.60" y="33.50" width="142.70" height="141.90" fill="url(#ga135)" mask="url(#ma135)"/><rect x="22.60" y="33.50" width="142.70" height="141.90" fill="url(#ga167)" mask="url(#ma167)"/></g></g>
<path d="M26.15 37.50H161.75M26.15 171.40H161.75" stroke="#3c3c3c" stroke-width="0.95" fill="none"/>
<path d="M26.60 37.50V171.40M161.30 37.50V171.40" stroke="#7a7a7a" stroke-width="0.95" fill="none"/>
<path d="M26.60 171.40V175.40M60.28 171.40V175.40M93.95 171.40V175.40M127.62 171.40V175.40M161.30 171.40V175.40M26.60 171.40H22.60M26.60 149.08H22.60M26.60 126.77H22.60M26.60 104.45H22.60M26.60 82.13H22.60M26.60 59.82H22.60M26.60 37.50H22.60" stroke="#3c3c3c" stroke-width="0.95" fill="none"/>
<path d="M198.95 37.50H334.25M198.95 171.30H334.25" stroke="#3c3c3c" stroke-width="0.95" fill="none"/>
<path d="M199.40 37.50V171.30M333.80 37.50V171.30" stroke="#3c3c3c" stroke-width="0.95" fill="none"/>
<path d="M199.40 171.30V175.30M233.00 171.30V175.30M266.60 171.30V175.30M300.20 171.30V175.30M333.80 171.30V175.30M199.40 171.30H195.40M199.40 149.00H195.40M199.40 126.70H195.40M199.40 104.40H195.40M199.40 82.10H195.40M199.40 59.80H195.40M199.40 37.50H195.40" stroke="#3c3c3c" stroke-width="0.95" fill="none"/>
<path d="M371.45 39.00H506.85M371.45 173.10H506.85" stroke="#3c3c3c" stroke-width="0.95" fill="none"/>
<path d="M371.90 39.00V173.10M506.40 39.00V173.10" stroke="#3c3c3c" stroke-width="0.95" fill="none"/>
<path d="M371.90 173.10V177.10M405.52 173.10V177.10M439.15 173.10V177.10M472.77 173.10V177.10M506.40 173.10V177.10M371.90 173.10H367.90M371.90 150.75H367.90M371.90 128.40H367.90M371.90 106.05H367.90M371.90 83.70H367.90M371.90 61.35H367.90M371.90 39.00H367.90" stroke="#3c3c3c" stroke-width="0.95" fill="none"/>
<path d="M543.85 38.60H678.95M543.85 172.50H678.95" stroke="#3c3c3c" stroke-width="0.95" fill="none"/>
<path d="M544.30 38.60V172.50M678.50 38.60V172.50" stroke="#3c3c3c" stroke-width="0.95" fill="none"/>
<path d="M544.30 172.50V176.50M577.85 172.50V176.50M611.40 172.50V176.50M644.95 172.50V176.50M678.50 172.50V176.50M544.30 172.50H540.30M544.30 150.18H540.30M544.30 127.87H540.30M544.30 105.55H540.30M544.30 83.23H540.30M544.30 60.92H540.30M544.30 38.60H540.30" stroke="#3c3c3c" stroke-width="0.95" fill="none"/>
<path d="M123.95 271.80H297.85M123.95 443.90H297.85" stroke="#3c3c3c" stroke-width="0.95" fill="none"/>
<path d="M124.40 271.80V443.90M297.40 271.80V443.90" stroke="#3c3c3c" stroke-width="0.95" fill="none"/>
<path d="M124.40 443.90V447.90M167.65 443.90V447.90M210.90 443.90V447.90M254.15 443.90V447.90M297.40 443.90V447.90M124.40 443.90H120.40M124.40 415.22H120.40M124.40 386.53H120.40M124.40 357.85H120.40M124.40 329.17H120.40M124.40 300.48H120.40M124.40 271.80H120.40" stroke="#3c3c3c" stroke-width="0.95" fill="none"/>
<path d="M394.95 272.20H568.45M394.95 443.90H568.45" stroke="#3c3c3c" stroke-width="0.95" fill="none"/>
<path d="M395.40 272.20V443.90M568.00 272.20V443.90" stroke="#3c3c3c" stroke-width="0.95" fill="none"/>
<path d="M395.40 443.90V447.90M438.55 443.90V447.90M481.70 443.90V447.90M524.85 443.90V447.90M568.00 443.90V447.90M395.40 443.90H391.40M395.40 415.28H391.40M395.40 386.67H391.40M395.40 358.05H391.40M395.40 329.43H391.40M395.40 300.82H391.40M395.40 272.20H391.40" stroke="#3c3c3c" stroke-width="0.95" fill="none"/>
<rect x="130.30" y="24.20" width="30.50" height="7.50" fill="url(#cbh)" stroke="#222" stroke-width="0.8"/>
<path d="M130.30 24.20V22.00M145.55 24.20V22.00M160.80 24.20V22.00" stroke="#333" stroke-width="0.8"/>
<rect x="302.80" y="24.20" width="31.00" height="7.50" fill="url(#cbh)" stroke="#222" stroke-width="0.8"/>
<path d="M302.80 24.20V22.00M318.30 24.20V22.00M333.80 24.20V22.00" stroke="#333" stroke-width="0.8"/>
<rect x="475.30" y="24.20" width="30.90" height="7.50" fill="url(#cbh)" stroke="#222" stroke-width="0.8"/>
<path d="M475.30 24.20V22.00M490.75 24.20V22.00M506.20 24.20V22.00" stroke="#333" stroke-width="0.8"/>
<rect x="648.10" y="24.20" width="30.40" height="7.50" fill="url(#cbh)" stroke="#222" stroke-width="0.8"/>
<path d="M648.10 24.20V22.00M663.30 24.20V22.00M678.50 24.20V22.00" stroke="#333" stroke-width="0.8"/>
<rect x="314.80" y="298.10" width="8.70" height="40.50" fill="url(#cbv)" stroke="#222" stroke-width="0.8"/>
<path d="M323.50 298.10H325.70M323.50 318.35H325.70M323.50 338.60H325.70" stroke="#333" stroke-width="0.8"/>
<rect x="583.90" y="295.10" width="7.90" height="41.00" fill="url(#cbv)" stroke="#222" stroke-width="0.8"/>
<path d="M591.80 295.10H594.00M591.80 315.60H594.00M591.80 336.10H594.00" stroke="#333" stroke-width="0.8"/>
<text x="-0.20" y="6.70" font-size="10.4" font-weight="bold" fill="#231f20" stroke="#231f20">a</text>
<text x="181.60" y="7.60" font-size="9.6" font-weight="bold" fill="#231f20" stroke="#231f20">b</text>
<text x="352.30" y="7.50" font-size="9.6" font-weight="bold" fill="#231f20" stroke="#231f20">d</text>
<text x="529.60" y="7.40" font-size="9.6" font-weight="bold" fill="#231f20" stroke="#231f20">e</text>
<text x="89.20" y="256.20" font-size="9.6" font-weight="bold" fill="#231f20" stroke="#231f20">c</text>
<text x="372.80" y="257.40" font-size="9.6" font-weight="bold" fill="#231f20" stroke="#231f20">f</text>
<text x="27.60" y="8.00" font-size="8.60" fill="#2a2a2a" stroke="#2a2a2a" text-anchor="start" textLength="115.70" lengthAdjust="spacingAndGlyphs" style="white-space:pre">Expt.  inner edge interference</text>
<text x="122.70" y="258.50" font-size="8.60" fill="#2a2a2a" stroke="#2a2a2a" text-anchor="start" textLength="116.10" lengthAdjust="spacingAndGlyphs" style="white-space:pre">Expt.  outer edge interference</text>
<text x="198.00" y="8.00" font-size="8.60" fill="#2a2a2a" stroke="#2a2a2a" text-anchor="start" textLength="40.30" lengthAdjust="spacingAndGlyphs" >Calc. inner</text>
<text x="243.8" y="8.0" font-size="8.6" fill="#2a2a2a" stroke="#2a2a2a" font-family="Liberation Sans, sans-serif"><tspan font-style="italic">G</tspan><tspan font-size="5.5" dy="1.4">D</tspan><tspan dy="-1.4" dx="1.5">(</tspan><tspan dx="1.2">f</tspan><tspan font-size="5" dy="2">i</tspan><tspan dy="-2" dx="1.2">)</tspan></text>
<text x="369.90" y="8.00" font-size="8.60" fill="#e8262d" stroke="#e8262d" text-anchor="start" textLength="42.40" lengthAdjust="spacingAndGlyphs" >Calc. outer</text>
<text x="414.7" y="8.0" font-size="8.6" fill="#e8262d" stroke="#e8262d"><tspan font-style="italic">G</tspan><tspan font-size="5.5" dy="1.4">D</tspan><tspan dy="-1.4" dx="1.2">(</tspan><tspan dx="1.2">f</tspan><tspan font-size="5" dy="2">0</tspan><tspan dy="-2" dx="0.8">)</tspan></text>
<text x="543.80" y="8.00" font-size="8.60" fill="#f5a03c" stroke="#f5a03c" text-anchor="start" textLength="48.10" lengthAdjust="spacingAndGlyphs" >Calc. pairing</text>
<text x="595.6" y="8.0" font-size="8.6" textLength="38" lengthAdjust="spacing" fill="#f5a03c" stroke="#f5a03c"><tspan font-style="italic">G</tspan><tspan font-size="5.5" dy="1.4">D</tspan><tspan dy="-1.4" dx="1.2">(</tspan><tspan dx="1.2">f</tspan><tspan font-size="5" dy="2">i</tspan><tspan dy="-2" dx="0.3">+</tspan><tspan dx="0.3">f</tspan><tspan font-size="5" dy="2">0</tspan><tspan dy="-2" dx="0.6">)</tspan></text>
<text x="395.20" y="258.60" font-size="8.60" fill="#2f80c4" stroke="#2f80c4" text-anchor="start" textLength="75.20" lengthAdjust="spacingAndGlyphs" >Calc. outer+pairing</text>
<text x="481.8" y="258.6" font-size="8.6" textLength="30.4" lengthAdjust="spacing" fill="#e8262d" stroke="#e8262d"><tspan font-style="italic">G</tspan><tspan font-size="5.5" dy="1.4">D</tspan><tspan dy="-1.4" dx="0.5">(</tspan><tspan dx="0.8">f</tspan><tspan font-size="5" dy="2">0</tspan><tspan dy="-2" dx="0.5">)</tspan><tspan dx="2">+</tspan></text>
<text x="513.6" y="258.6" font-size="8.6" textLength="36.4" lengthAdjust="spacing" fill="#f5a03c" stroke="#f5a03c"><tspan font-style="italic">G</tspan><tspan font-size="5.5" dy="1.4">D</tspan><tspan dy="-1.4" dx="0.5">(</tspan><tspan dx="0.8">f</tspan><tspan font-size="5" dy="2">i</tspan><tspan dy="-2" dx="0.3">+</tspan><tspan dx="0.3">f</tspan><tspan font-size="5" dy="2">0</tspan><tspan dy="-2" dx="0.6">)</tspan></text>
<text x="93.80" y="30.60" font-size="8.4" fill="#2a2a2a" stroke="#2a2a2a"><tspan font-style="italic">G</tspan><tspan font-size="5.5" dy="1.6">D</tspan><tspan dy="-1.6">(e</tspan><tspan font-size="5.2" dy="-3">2</tspan><tspan dy="3">/h)</tspan></text>
<text x="264.10" y="31.00" font-size="8.4" fill="#2a2a2a" stroke="#2a2a2a"><tspan font-style="italic">G</tspan><tspan font-size="5.5" dy="1.6">D</tspan><tspan dy="-1.6">(e</tspan><tspan font-size="5.2" dy="-3">2</tspan><tspan dy="3">/h)</tspan></text>
<text x="435.60" y="30.80" font-size="8.4" fill="#2a2a2a" stroke="#2a2a2a"><tspan font-style="italic">G</tspan><tspan font-size="5.5" dy="1.6">D</tspan><tspan dy="-1.6">(e</tspan><tspan font-size="5.2" dy="-3">2</tspan><tspan dy="3">/h)</tspan></text>
<text x="610.70" y="30.80" font-size="8.4" fill="#2a2a2a" stroke="#2a2a2a"><tspan font-style="italic">G</tspan><tspan font-size="5.5" dy="1.6">D</tspan><tspan dy="-1.6">(e</tspan><tspan font-size="5.2" dy="-3">2</tspan><tspan dy="3">/h)</tspan></text>
<text x="304.70" y="287.60" font-size="8.4" fill="#2a2a2a" stroke="#2a2a2a"><tspan font-style="italic">G</tspan><tspan font-size="5.5" dy="1.6">D</tspan><tspan dy="-1.6">(e</tspan><tspan font-size="5.2" dy="-3">2</tspan><tspan dy="3">/h)</tspan></text>
<text x="572.60" y="286.70" font-size="8.4" fill="#2a2a2a" stroke="#2a2a2a"><tspan font-style="italic">G</tspan><tspan font-size="5.5" dy="1.6">D</tspan><tspan dy="-1.6">(e</tspan><tspan font-size="5.2" dy="-3">2</tspan><tspan dy="3">/h)</tspan></text>
<text x="126.10" y="19.60" font-size="8.60" fill="#2a2a2a" stroke="#2a2a2a" text-anchor="start" textLength="9.10" lengthAdjust="spacingAndGlyphs" >1.1</text>
<text x="155.50" y="19.60" font-size="8.60" fill="#2a2a2a" stroke="#2a2a2a" text-anchor="start" textLength="10.60" lengthAdjust="spacingAndGlyphs" >1.3</text>
<text x="298.50" y="19.60" font-size="8.60" fill="#2a2a2a" stroke="#2a2a2a" text-anchor="start" textLength="9.60" lengthAdjust="spacingAndGlyphs" >1.1</text>
<text x="327.70" y="19.60" font-size="8.60" fill="#2a2a2a" stroke="#2a2a2a" text-anchor="start" textLength="10.30" lengthAdjust="spacingAndGlyphs" >1.3</text>
<text x="471.00" y="19.60" font-size="8.60" fill="#2a2a2a" stroke="#2a2a2a" text-anchor="start" textLength="3.90" lengthAdjust="spacingAndGlyphs" >0</text>
<text x="494.80" y="19.60" font-size="8.60" fill="#2a2a2a" stroke="#2a2a2a" text-anchor="start" textLength="16.50" lengthAdjust="spacingAndGlyphs" >0.15</text>
<text x="643.00" y="19.60" font-size="8.60" fill="#2a2a2a" stroke="#2a2a2a" text-anchor="start" textLength="15.00" lengthAdjust="spacingAndGlyphs" >0.01</text>
<text x="668.80" y="19.60" font-size="8.60" fill="#2a2a2a" stroke="#2a2a2a" text-anchor="start" textLength="15.80" lengthAdjust="spacingAndGlyphs" >0.08</text>
<text x="329.30" y="303.10" font-size="8.60" fill="#2a2a2a" stroke="#2a2a2a" text-anchor="start" textLength="10.90" lengthAdjust="spacingAndGlyphs" >0.3</text>
<text x="329.30" y="341.60" font-size="8.60" fill="#2a2a2a" stroke="#2a2a2a" text-anchor="start" textLength="10.90" lengthAdjust="spacingAndGlyphs" >0.1</text>
<text x="601.00" y="299.80" font-size="8.60" fill="#2a2a2a" stroke="#2a2a2a" text-anchor="start" textLength="10.90" lengthAdjust="spacingAndGlyphs" >0.3</text>
<text x="601.00" y="339.10" font-size="8.60" fill="#2a2a2a" stroke="#2a2a2a" text-anchor="start" textLength="10.90" lengthAdjust="spacingAndGlyphs" >0.1</text>
<text x="16.40" y="174.40" font-size="8.60" fill="#2a2a2a" stroke="#2a2a2a" text-anchor="end" >0</text>
<text x="16.40" y="129.77" font-size="8.60" fill="#2a2a2a" stroke="#2a2a2a" text-anchor="end" >2</text>
<text x="16.40" y="85.13" font-size="8.60" fill="#2a2a2a" stroke="#2a2a2a" text-anchor="end" >4</text>
<text x="16.40" y="40.50" font-size="8.60" fill="#2a2a2a" stroke="#2a2a2a" text-anchor="end" >6</text>
<text x="111.40" y="446.90" font-size="8.60" fill="#2a2a2a" stroke="#2a2a2a" text-anchor="end" >0</text>
<text x="111.40" y="389.53" font-size="8.60" fill="#2a2a2a" stroke="#2a2a2a" text-anchor="end" >2</text>
<text x="111.40" y="332.17" font-size="8.60" fill="#2a2a2a" stroke="#2a2a2a" text-anchor="end" >4</text>
<text x="111.40" y="274.80" font-size="8.60" fill="#2a2a2a" stroke="#2a2a2a" text-anchor="end" >6</text>
<text transform="translate(8.30 106.80) rotate(-90)" font-size="8.6" fill="#2a2a2a" stroke="#2a2a2a" text-anchor="middle"><tspan font-style="normal">δ</tspan><tspan font-style="italic">B</tspan> (mT)</text>
<text transform="translate(97.00 358.00) rotate(-90)" font-size="8.6" fill="#2a2a2a" stroke="#2a2a2a" text-anchor="middle"><tspan font-style="normal">δ</tspan><tspan font-style="italic">B</tspan> (mT)</text>
<text x="19.00" y="187.40" font-size="8.60" fill="#2a2a2a" stroke="#2a2a2a" text-anchor="start" textLength="14.00" lengthAdjust="spacingAndGlyphs" >-3.3</text>
<text x="84.55" y="187.40" font-size="8.60" fill="#2a2a2a" stroke="#2a2a2a" text-anchor="start" textLength="19.00" lengthAdjust="spacingAndGlyphs" >-3.25</text>
<text x="151.20" y="187.40" font-size="8.60" fill="#2a2a2a" stroke="#2a2a2a" text-anchor="start" textLength="14.10" lengthAdjust="spacingAndGlyphs" >-3.2</text>
<text x="191.80" y="187.40" font-size="8.60" fill="#2a2a2a" stroke="#2a2a2a" text-anchor="start" textLength="14.00" lengthAdjust="spacingAndGlyphs" >-3.3</text>
<text x="257.20" y="187.40" font-size="8.60" fill="#2a2a2a" stroke="#2a2a2a" text-anchor="start" textLength="19.00" lengthAdjust="spacingAndGlyphs" >-3.25</text>
<text x="323.70" y="187.40" font-size="8.60" fill="#2a2a2a" stroke="#2a2a2a" text-anchor="start" textLength="14.10" lengthAdjust="spacingAndGlyphs" >-3.2</text>
<text x="364.30" y="188.80" font-size="8.60" fill="#2a2a2a" stroke="#2a2a2a" text-anchor="start" textLength="14.00" lengthAdjust="spacingAndGlyphs" >-3.3</text>
<text x="429.75" y="188.80" font-size="8.60" fill="#2a2a2a" stroke="#2a2a2a" text-anchor="start" textLength="19.00" lengthAdjust="spacingAndGlyphs" >-3.25</text>
<text x="496.30" y="188.80" font-size="8.60" fill="#2a2a2a" stroke="#2a2a2a" text-anchor="start" textLength="14.10" lengthAdjust="spacingAndGlyphs" >-3.2</text>
<text x="536.70" y="188.50" font-size="8.60" fill="#2a2a2a" stroke="#2a2a2a" text-anchor="start" textLength="14.00" lengthAdjust="spacingAndGlyphs" >-3.3</text>
<text x="602.00" y="188.50" font-size="8.60" fill="#2a2a2a" stroke="#2a2a2a" text-anchor="start" textLength="19.00" lengthAdjust="spacingAndGlyphs" >-3.25</text>
<text x="668.40" y="188.50" font-size="8.60" fill="#2a2a2a" stroke="#2a2a2a" text-anchor="start" textLength="14.10" lengthAdjust="spacingAndGlyphs" >-3.2</text>
<text x="116.80" y="463.40" font-size="8.60" fill="#2a2a2a" stroke="#2a2a2a" text-anchor="start" textLength="14.00" lengthAdjust="spacingAndGlyphs" >-3.3</text>
<text x="201.50" y="463.40" font-size="8.60" fill="#2a2a2a" stroke="#2a2a2a" text-anchor="start" textLength="19.00" lengthAdjust="spacingAndGlyphs" >-3.25</text>
<text x="287.30" y="463.40" font-size="8.60" fill="#2a2a2a" stroke="#2a2a2a" text-anchor="start" textLength="14.10" lengthAdjust="spacingAndGlyphs" >-3.2</text>
<text x="387.80" y="463.40" font-size="8.60" fill="#2a2a2a" stroke="#2a2a2a" text-anchor="start" textLength="14.00" lengthAdjust="spacingAndGlyphs" >-3.3</text>
<text x="472.30" y="463.40" font-size="8.60" fill="#2a2a2a" stroke="#2a2a2a" text-anchor="start" textLength="19.00" lengthAdjust="spacingAndGlyphs" >-3.25</text>
<text x="557.90" y="463.40" font-size="8.60" fill="#2a2a2a" stroke="#2a2a2a" text-anchor="start" textLength="14.10" lengthAdjust="spacingAndGlyphs" >-3.2</text>
<text x="38.00" y="204.60" font-size="8.7" fill="#2a2a2a" stroke="#2a2a2a" textLength="82.1" lengthAdjust="spacingAndGlyphs">Plunger gate voltage</text>
<text x="124.50" y="204.60" font-size="8.7" fill="#2a2a2a" stroke="#2a2a2a" textLength="22.4" lengthAdjust="spacingAndGlyphs"><tspan font-style="italic">V</tspan><tspan font-size="6" dy="0.7">pg</tspan><tspan dy="-0.7" dx="1.2">(V)</tspan></text>
<text x="213.80" y="205.00" font-size="8.7" fill="#2a2a2a" stroke="#2a2a2a" textLength="82.1" lengthAdjust="spacingAndGlyphs">Plunger gate voltage</text>
<text x="300.30" y="205.00" font-size="8.7" fill="#2a2a2a" stroke="#2a2a2a" textLength="22.4" lengthAdjust="spacingAndGlyphs"><tspan font-style="italic">V</tspan><tspan font-size="6" dy="0.7">pg</tspan><tspan dy="-0.7" dx="1.2">(V)</tspan></text>
<text x="385.00" y="205.10" font-size="8.7" fill="#2a2a2a" stroke="#2a2a2a" textLength="82.1" lengthAdjust="spacingAndGlyphs">Plunger gate voltage</text>
<text x="471.50" y="205.10" font-size="8.7" fill="#2a2a2a" stroke="#2a2a2a" textLength="22.4" lengthAdjust="spacingAndGlyphs"><tspan font-style="italic">V</tspan><tspan font-size="6" dy="0.7">pg</tspan><tspan dy="-0.7" dx="1.2">(V)</tspan></text>
<text x="559.00" y="204.60" font-size="8.7" fill="#2a2a2a" stroke="#2a2a2a" textLength="82.1" lengthAdjust="spacingAndGlyphs">Plunger gate voltage</text>
<text x="645.50" y="204.60" font-size="8.7" fill="#2a2a2a" stroke="#2a2a2a" textLength="22.4" lengthAdjust="spacingAndGlyphs"><tspan font-style="italic">V</tspan><tspan font-size="6" dy="0.7">pg</tspan><tspan dy="-0.7" dx="1.2">(V)</tspan></text>
<text x="159.00" y="475.60" font-size="8.7" fill="#2a2a2a" stroke="#2a2a2a" textLength="82.1" lengthAdjust="spacingAndGlyphs">Plunger gate voltage</text>
<text x="245.50" y="475.60" font-size="8.7" fill="#2a2a2a" stroke="#2a2a2a" textLength="22.4" lengthAdjust="spacingAndGlyphs"><tspan font-style="italic">V</tspan><tspan font-size="6" dy="0.7">pg</tspan><tspan dy="-0.7" dx="1.2">(V)</tspan></text>
<text x="428.20" y="475.60" font-size="8.7" fill="#2a2a2a" stroke="#2a2a2a" textLength="82.1" lengthAdjust="spacingAndGlyphs">Plunger gate voltage</text>
<text x="514.70" y="475.60" font-size="8.7" fill="#2a2a2a" stroke="#2a2a2a" textLength="22.4" lengthAdjust="spacingAndGlyphs"><tspan font-style="italic">V</tspan><tspan font-size="6" dy="0.7">pg</tspan><tspan dy="-0.7" dx="1.2">(V)</tspan></text>
<path d="M162.9 95.4H190.5" stroke="#231f20" stroke-width="2.7"/>
<path d="M185.6 90.8L194 95.4L185.6 100L188.2 95.4Z" fill="#231f20"/>
<path d="M292.2 263.4L354.3 201.6" stroke="#e8202a" stroke-width="2.6"/>
<path d="M357.3 199.0L348.6 199.2L348.3 201.9L353.4 202.6L354.3 208.4L357.3 205.8Z" fill="#e8202a"/>
<path d="M498.8 204.9V234.3" stroke="#1f74c0" stroke-width="2.5" stroke-dasharray="2.4 2.98"/>
<path d="M494.0 234.6L497.0 234.6L498.8 237.2L500.6 234.6L503.8 234.6L498.8 242.8Z" fill="#1f74c0"/>
<path d="M546.60 200.14L517.20 235.36" stroke="#1f74c0" stroke-width="2.5" stroke-dasharray="2.5 2.92"/>
<path d="M511.1 233.9L513.8 233.1L514.7 236.9L519.9 237.5L520.0 239.8L517.6 241.9L511.1 241.9Z" fill="#1f74c0"/>
<path d="M133.4 276L165.6 358.2M162.2 276L195.5 357.8" stroke="#231f20" stroke-width="1.5"/>
<path d="M162.6 357.4L166.8 361L168.3 355.9" stroke="#231f20" stroke-width="1.5" fill="none"/>
<path d="M192.4 357.0L196.6 360.6L198.1 355.5" stroke="#231f20" stroke-width="1.5" fill="none"/></svg></body></html>
